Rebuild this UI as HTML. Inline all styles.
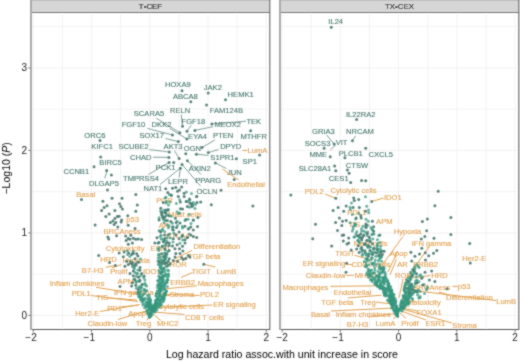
<!DOCTYPE html><html><head><meta charset="utf-8"><style>
html,body{margin:0;padding:0;background:#fff;}
svg{display:block;font-family:"Liberation Sans",sans-serif;}
#w{width:520px;height:361px;overflow:hidden;}
</style></head><body><div id="w">
<svg width="520" height="361" viewBox="0 0 520 361" xmlns="http://www.w3.org/2000/svg">
<defs><filter id="b" x="0" y="0" width="520" height="361" filterUnits="userSpaceOnUse"><feConvolveMatrix order="3" kernelMatrix="1 2 1 2 12 2 1 2 1" divisor="24" edgeMode="duplicate"/></filter></defs><rect width="520" height="361" fill="#fff"/><g filter="url(#b)">
<g stroke="#efefef" stroke-width="0.8"><line x1="33.30" y1="13" x2="33.30" y2="329" /><line x1="62.43" y1="13" x2="62.43" y2="329" /><line x1="91.55" y1="13" x2="91.55" y2="329" /><line x1="120.68" y1="13" x2="120.68" y2="329" /><line x1="149.80" y1="13" x2="149.80" y2="329" /><line x1="178.93" y1="13" x2="178.93" y2="329" /><line x1="208.05" y1="13" x2="208.05" y2="329" /><line x1="237.18" y1="13" x2="237.18" y2="329" /><line x1="266.30" y1="13" x2="266.30" y2="329" /><line x1="31" y1="315.40" x2="270" y2="315.40" /><line x1="31" y1="274.15" x2="270" y2="274.15" /><line x1="31" y1="232.90" x2="270" y2="232.90" /><line x1="31" y1="191.65" x2="270" y2="191.65" /><line x1="31" y1="150.40" x2="270" y2="150.40" /><line x1="31" y1="109.15" x2="270" y2="109.15" /><line x1="31" y1="67.90" x2="270" y2="67.90" /><line x1="31" y1="26.65" x2="270" y2="26.65" /></g>
<rect x="31" y="0" width="239" height="12.5" fill="#d6d6d6"/>
<rect x="31" y="0" width="239" height="1" fill="#bdbdbd"/>
<rect x="31" y="12" width="239" height="1" fill="#6a6a6a"/>
<rect x="31" y="329" width="239" height="1" fill="#555"/>
<rect x="30" y="0" width="2" height="330" fill="#aaaaaa"/>
<rect x="269.3" y="0" width="1" height="330" fill="#555"/>
<line x1="33.30" y1="330" x2="33.30" y2="332.4" stroke="#555" stroke-width="0.8"/>
<text x="31.00" y="341.4" font-size="10.0" fill="#222" text-anchor="middle">−2</text>
<line x1="91.55" y1="330" x2="91.55" y2="332.4" stroke="#555" stroke-width="0.8"/>
<text x="89.25" y="341.4" font-size="10.0" fill="#222" text-anchor="middle">−1</text>
<line x1="149.80" y1="330" x2="149.80" y2="332.4" stroke="#555" stroke-width="0.8"/>
<text x="149.80" y="341.4" font-size="10.0" fill="#222" text-anchor="middle">0</text>
<line x1="208.05" y1="330" x2="208.05" y2="332.4" stroke="#555" stroke-width="0.8"/>
<text x="208.05" y="341.4" font-size="10.0" fill="#222" text-anchor="middle">1</text>
<line x1="266.30" y1="330" x2="266.30" y2="332.4" stroke="#555" stroke-width="0.8"/>
<text x="266.30" y="341.4" font-size="10.0" fill="#222" text-anchor="middle">2</text>
<text x="150.5" y="9.0" font-size="7.9" fill="#111" stroke="#111" stroke-width="0.15" text-anchor="middle">T•CEF</text>
<g stroke="#efefef" stroke-width="0.8"><line x1="282.10" y1="13" x2="282.10" y2="329" /><line x1="311.23" y1="13" x2="311.23" y2="329" /><line x1="340.35" y1="13" x2="340.35" y2="329" /><line x1="369.48" y1="13" x2="369.48" y2="329" /><line x1="398.60" y1="13" x2="398.60" y2="329" /><line x1="427.73" y1="13" x2="427.73" y2="329" /><line x1="456.85" y1="13" x2="456.85" y2="329" /><line x1="485.98" y1="13" x2="485.98" y2="329" /><line x1="515.10" y1="13" x2="515.10" y2="329" /><line x1="280" y1="315.40" x2="519" y2="315.40" /><line x1="280" y1="274.15" x2="519" y2="274.15" /><line x1="280" y1="232.90" x2="519" y2="232.90" /><line x1="280" y1="191.65" x2="519" y2="191.65" /><line x1="280" y1="150.40" x2="519" y2="150.40" /><line x1="280" y1="109.15" x2="519" y2="109.15" /><line x1="280" y1="67.90" x2="519" y2="67.90" /><line x1="280" y1="26.65" x2="519" y2="26.65" /></g>
<rect x="280" y="0" width="239" height="12.5" fill="#d6d6d6"/>
<rect x="280" y="0" width="239" height="1" fill="#bdbdbd"/>
<rect x="280" y="12" width="239" height="1" fill="#6a6a6a"/>
<rect x="280" y="329" width="239" height="1" fill="#555"/>
<rect x="279" y="0" width="2" height="330" fill="#aaaaaa"/>
<rect x="518.3" y="0" width="1" height="330" fill="#555"/>
<line x1="282.10" y1="330" x2="282.10" y2="332.4" stroke="#555" stroke-width="0.8"/>
<text x="282.10" y="341.4" font-size="10.0" fill="#222" text-anchor="middle">−2</text>
<line x1="340.35" y1="330" x2="340.35" y2="332.4" stroke="#555" stroke-width="0.8"/>
<text x="338.05" y="341.4" font-size="10.0" fill="#222" text-anchor="middle">−1</text>
<line x1="398.60" y1="330" x2="398.60" y2="332.4" stroke="#555" stroke-width="0.8"/>
<text x="398.60" y="341.4" font-size="10.0" fill="#222" text-anchor="middle">0</text>
<line x1="456.85" y1="330" x2="456.85" y2="332.4" stroke="#555" stroke-width="0.8"/>
<text x="456.85" y="341.4" font-size="10.0" fill="#222" text-anchor="middle">1</text>
<line x1="515.10" y1="330" x2="515.10" y2="332.4" stroke="#555" stroke-width="0.8"/>
<text x="515.10" y="341.4" font-size="10.0" fill="#222" text-anchor="middle">2</text>
<text x="399.5" y="9.0" font-size="7.9" fill="#111" stroke="#111" stroke-width="0.15" text-anchor="middle">TX•CEX</text>
<line x1="28.3" y1="315.40" x2="30.5" y2="315.40" stroke="#555" stroke-width="0.8"/>
<text x="27.1" y="318.90" font-size="10.0" fill="#222" text-anchor="end">0</text>
<line x1="28.3" y1="232.90" x2="30.5" y2="232.90" stroke="#555" stroke-width="0.8"/>
<text x="27.1" y="236.40" font-size="10.0" fill="#222" text-anchor="end">1</text>
<line x1="28.3" y1="150.40" x2="30.5" y2="150.40" stroke="#555" stroke-width="0.8"/>
<text x="27.1" y="153.90" font-size="10.0" fill="#222" text-anchor="end">2</text>
<line x1="28.3" y1="67.90" x2="30.5" y2="67.90" stroke="#555" stroke-width="0.8"/>
<text x="27.1" y="71.40" font-size="10.0" fill="#222" text-anchor="end">3</text>
<text x="281.9" y="357.6" font-size="10.6" fill="#000" text-anchor="middle">Log hazard ratio assoc.with unit increase in score</text>
<text transform="translate(10.4,168.4) rotate(-90)" font-size="10.5" fill="#000" text-anchor="middle">−Log10 (<tspan font-style="italic">P</tspan>)</text>
<g font-size="7.6" text-anchor="middle" stroke-width="0.12"><text x="177.8" y="87.2" fill="#44766b" stroke="#44766b">HOXA9</text><text x="212.8" y="89.8" fill="#44766b" stroke="#44766b">JAK2</text><text x="240.7" y="97.2" fill="#44766b" stroke="#44766b">HEMK1</text><text x="185.4" y="98.8" fill="#44766b" stroke="#44766b">ABCA8</text><text x="180.1" y="113.0" fill="#44766b" stroke="#44766b">RELN</text><text x="226.4" y="113.2" fill="#44766b" stroke="#44766b">FAM124B</text><text x="193.4" y="123.6" fill="#44766b" stroke="#44766b">FGF18</text><text x="227.7" y="126.8" fill="#44766b" stroke="#44766b">MEOX2</text><text x="253.8" y="123.5" fill="#44766b" stroke="#44766b">TEK</text><text x="149.0" y="116.3" fill="#44766b" stroke="#44766b">SCARA5</text><text x="133.5" y="127.2" fill="#44766b" stroke="#44766b">FGF10</text><text x="161.5" y="127.1" fill="#44766b" stroke="#44766b">DKK2</text><text x="151.8" y="138.0" fill="#44766b" stroke="#44766b">SOX17</text><text x="197.5" y="139.3" fill="#44766b" stroke="#44766b">EYA4</text><text x="223.2" y="137.9" fill="#44766b" stroke="#44766b">PTEN</text><text x="253.7" y="139.3" fill="#44766b" stroke="#44766b">MTHFR</text><text x="94.9" y="137.6" fill="#44766b" stroke="#44766b">ORC6</text><text x="102.1" y="149.4" fill="#44766b" stroke="#44766b">KIFC1</text><text x="133.6" y="149.4" fill="#44766b" stroke="#44766b">SCUBE2</text><text x="173.1" y="149.2" fill="#44766b" stroke="#44766b">AKT3</text><text x="192.4" y="150.6" fill="#44766b" stroke="#44766b">OGN</text><text x="230.7" y="149.0" fill="#44766b" stroke="#44766b">DPYD</text><text x="257.5" y="152.5" fill="#e0a04c" stroke="#e0a04c">LumA</text><text x="140.8" y="159.6" fill="#44766b" stroke="#44766b">CHAD</text><text x="222.4" y="159.5" fill="#44766b" stroke="#44766b">S1PR1</text><text x="249.8" y="164.1" fill="#44766b" stroke="#44766b">SP1</text><text x="110.5" y="165.0" fill="#44766b" stroke="#44766b">BIRC5</text><text x="76.3" y="173.7" fill="#44766b" stroke="#44766b">CCNB1</text><text x="165.5" y="170.2" fill="#44766b" stroke="#44766b">PCK1</text><text x="199.8" y="171.0" fill="#44766b" stroke="#44766b">AXIN2</text><text x="234.3" y="175.2" fill="#44766b" stroke="#44766b">JUN</text><text x="141.0" y="180.8" fill="#44766b" stroke="#44766b">TMPRSS4</text><text x="103.9" y="185.6" fill="#44766b" stroke="#44766b">DLGAP5</text><text x="178.0" y="184.4" fill="#44766b" stroke="#44766b">LEPR</text><text x="208.2" y="182.8" fill="#44766b" stroke="#44766b">PPARG</text><text x="207.0" y="193.6" fill="#44766b" stroke="#44766b">OCLN</text><text x="152.9" y="191.4" fill="#44766b" stroke="#44766b">NAT1</text><text x="246.1" y="187.2" fill="#e0a04c" stroke="#e0a04c">Endothelial</text><text x="85.8" y="196.8" fill="#e0a04c" stroke="#e0a04c">Basal</text><text x="164.5" y="203.2" fill="#e0a04c" stroke="#e0a04c">PGR</text><text x="185.0" y="217.0" fill="#e0a04c" stroke="#e0a04c">Mast cells</text><text x="132.7" y="221.9" fill="#e0a04c" stroke="#e0a04c">p53</text><text x="164.0" y="228.0" fill="#e0a04c" stroke="#e0a04c">AR</text><text x="122.0" y="233.6" fill="#e0a04c" stroke="#e0a04c">BRCAness</text><text x="177.8" y="237.9" fill="#e0a04c" stroke="#e0a04c">CTLA4</text><text x="125.1" y="250.8" fill="#e0a04c" stroke="#e0a04c">Cytotoxicity</text><text x="160.5" y="251.2" fill="#e0a04c" stroke="#e0a04c">ESR1</text><text x="216.8" y="248.7" fill="#e0a04c" stroke="#e0a04c">Differentiation</text><text x="204.2" y="259.1" fill="#e0a04c" stroke="#e0a04c">TGF beta</text><text x="108.6" y="261.8" fill="#e0a04c" stroke="#e0a04c">HRD</text><text x="136.1" y="262.8" fill="#e0a04c" stroke="#e0a04c">Hypoxia</text><text x="178.3" y="267.3" fill="#e0a04c" stroke="#e0a04c">ROR</text><text x="92.6" y="272.7" fill="#e0a04c" stroke="#e0a04c">B7-H3</text><text x="118.9" y="273.8" fill="#e0a04c" stroke="#e0a04c">Prolif</text><text x="151.8" y="274.0" fill="#e0a04c" stroke="#e0a04c">IDO1</text><text x="201.1" y="273.7" fill="#e0a04c" stroke="#e0a04c">TIGIT</text><text x="226.4" y="274.2" fill="#e0a04c" stroke="#e0a04c">LumB</text><text x="77.2" y="285.8" fill="#e0a04c" stroke="#e0a04c">Inflam chmkines</text><text x="125.8" y="283.8" fill="#e0a04c" stroke="#e0a04c">APM</text><text x="182.6" y="285.2" fill="#e0a04c" stroke="#e0a04c">ERBB2</text><text x="220.7" y="286.0" fill="#e0a04c" stroke="#e0a04c">Macrophages</text><text x="81.2" y="296.0" fill="#e0a04c" stroke="#e0a04c">PDL1</text><text x="133.8" y="295.0" fill="#e0a04c" stroke="#e0a04c">IFN gamma</text><text x="181.9" y="297.0" fill="#e0a04c" stroke="#e0a04c">Stroma</text><text x="209.4" y="297.0" fill="#e0a04c" stroke="#e0a04c">PDL2</text><text x="102.2" y="300.3" fill="#e0a04c" stroke="#e0a04c">TIS</text><text x="234.5" y="307.0" fill="#e0a04c" stroke="#e0a04c">ER signaling</text><text x="181.1" y="309.1" fill="#e0a04c" stroke="#e0a04c">Cytolytic cells</text><text x="114.6" y="311.2" fill="#e0a04c" stroke="#e0a04c">PD1</text><text x="87.2" y="316.0" fill="#e0a04c" stroke="#e0a04c">Her2-E</text><text x="137.0" y="316.1" fill="#e0a04c" stroke="#e0a04c">Apop</text><text x="204.6" y="320.2" fill="#e0a04c" stroke="#e0a04c">CD8 T cells</text><text x="107.4" y="326.4" fill="#e0a04c" stroke="#e0a04c">Claudin-low</text><text x="143.5" y="325.5" fill="#e0a04c" stroke="#e0a04c">Treg</text><text x="167.7" y="325.9" fill="#e0a04c" stroke="#e0a04c">MHC2</text><text x="335.7" y="24.3" fill="#44766b" stroke="#44766b">IL24</text><text x="360.7" y="117.0" fill="#44766b" stroke="#44766b">IL22RA2</text><text x="323.4" y="134.4" fill="#44766b" stroke="#44766b">GRIA3</text><text x="359.9" y="134.4" fill="#44766b" stroke="#44766b">NRCAM</text><text x="317.5" y="146.4" fill="#44766b" stroke="#44766b">SOCS3</text><text x="341.6" y="145.3" fill="#44766b" stroke="#44766b">VIT</text><text x="318.3" y="157.0" fill="#44766b" stroke="#44766b">MME</text><text x="350.7" y="156.2" fill="#44766b" stroke="#44766b">PLCB1</text><text x="380.8" y="157.0" fill="#44766b" stroke="#44766b">CXCL5</text><text x="315.0" y="170.7" fill="#44766b" stroke="#44766b">SLC28A1</text><text x="357.0" y="168.1" fill="#44766b" stroke="#44766b">CTSW</text><text x="338.7" y="181.1" fill="#44766b" stroke="#44766b">CES1</text><text x="314.3" y="193.8" fill="#e0a04c" stroke="#e0a04c">PDL2</text><text x="353.6" y="193.3" fill="#e0a04c" stroke="#e0a04c">Cytolytic cells</text><text x="392.8" y="200.3" fill="#e0a04c" stroke="#e0a04c">IDO1</text><text x="356.8" y="215.3" fill="#e0a04c" stroke="#e0a04c">PDL1</text><text x="354.3" y="227.1" fill="#e0a04c" stroke="#e0a04c">TIS</text><text x="384.3" y="224.0" fill="#e0a04c" stroke="#e0a04c">APM</text><text x="407.4" y="234.2" fill="#e0a04c" stroke="#e0a04c">Hypoxia</text><text x="370.6" y="245.6" fill="#e0a04c" stroke="#e0a04c">Mast cells</text><text x="431.5" y="246.0" fill="#e0a04c" stroke="#e0a04c">IFN gamma</text><text x="345.0" y="256.0" fill="#e0a04c" stroke="#e0a04c">TIGIT</text><text x="398.8" y="256.0" fill="#e0a04c" stroke="#e0a04c">Apop</text><text x="474.4" y="261.1" fill="#e0a04c" stroke="#e0a04c">Her2-E</text><text x="324.1" y="266.4" fill="#e0a04c" stroke="#e0a04c">ER signaling</text><text x="371.0" y="266.6" fill="#e0a04c" stroke="#e0a04c">CD8 T cells</text><text x="402.5" y="267.0" fill="#e0a04c" stroke="#e0a04c">AR</text><text x="425.6" y="267.0" fill="#e0a04c" stroke="#e0a04c">ERBB2</text><text x="325.6" y="278.0" fill="#e0a04c" stroke="#e0a04c">Claudin-low</text><text x="365.4" y="277.6" fill="#e0a04c" stroke="#e0a04c">MHC2</text><text x="403.5" y="277.6" fill="#e0a04c" stroke="#e0a04c">ROR</text><text x="439.5" y="277.8" fill="#e0a04c" stroke="#e0a04c">HRD</text><text x="305.4" y="289.8" fill="#e0a04c" stroke="#e0a04c">Macrophages</text><text x="352.6" y="294.5" fill="#e0a04c" stroke="#e0a04c">Endothelial</text><text x="431.8" y="289.7" fill="#e0a04c" stroke="#e0a04c">BRCAness</text><text x="464.2" y="288.5" fill="#e0a04c" stroke="#e0a04c">p53</text><text x="337.2" y="305.0" fill="#e0a04c" stroke="#e0a04c">TGF beta</text><text x="368.0" y="304.7" fill="#e0a04c" stroke="#e0a04c">Treg</text><text x="421.3" y="304.7" fill="#e0a04c" stroke="#e0a04c">Cytotoxicity</text><text x="469.3" y="300.3" fill="#e0a04c" stroke="#e0a04c">Differentiation</text><text x="506.1" y="304.1" fill="#e0a04c" stroke="#e0a04c">LumB</text><text x="320.4" y="316.5" fill="#e0a04c" stroke="#e0a04c">Basal</text><text x="363.2" y="316.5" fill="#e0a04c" stroke="#e0a04c">Inflam chmkines</text><text x="429.2" y="314.7" fill="#e0a04c" stroke="#e0a04c">FOXA1</text><text x="357.4" y="326.8" fill="#e0a04c" stroke="#e0a04c">B7-H3</text><text x="385.5" y="326.2" fill="#e0a04c" stroke="#e0a04c">LumA</text><text x="410.0" y="326.2" fill="#e0a04c" stroke="#e0a04c">Prolif</text><text x="435.4" y="325.7" fill="#e0a04c" stroke="#e0a04c">ESR1</text><text x="464.6" y="327.5" fill="#e0a04c" stroke="#e0a04c">Stroma</text></g>
<line x1="156.2" y1="118.1" x2="179.8" y2="132.7" stroke="#44766b" stroke-width="0.7"/>
<line x1="169.5" y1="128.2" x2="186.8" y2="139.0" stroke="#44766b" stroke-width="0.7"/>
<line x1="147.4" y1="128.4" x2="172.5" y2="135.0" stroke="#44766b" stroke-width="0.7"/>
<line x1="165.5" y1="138.5" x2="178.3" y2="141.6" stroke="#44766b" stroke-width="0.7"/>
<line x1="181.2" y1="114.5" x2="182.5" y2="126.2" stroke="#44766b" stroke-width="0.7"/>
<line x1="191.3" y1="125.2" x2="187.0" y2="131.2" stroke="#44766b" stroke-width="0.7"/>
<line x1="213.2" y1="126.6" x2="194.9" y2="130.4" stroke="#44766b" stroke-width="0.7"/>
<line x1="246.0" y1="121.2" x2="211.8" y2="123.9" stroke="#44766b" stroke-width="0.7"/>
<line x1="149.5" y1="149.6" x2="169.3" y2="152.0" stroke="#44766b" stroke-width="0.7"/>
<line x1="153.0" y1="157.2" x2="168.9" y2="157.4" stroke="#44766b" stroke-width="0.7"/>
<line x1="174.5" y1="150.5" x2="179.1" y2="158.6" stroke="#44766b" stroke-width="0.7"/>
<line x1="214.9" y1="140.0" x2="202.0" y2="147.5" stroke="#44766b" stroke-width="0.7"/>
<line x1="218.5" y1="149.6" x2="208.3" y2="152.5" stroke="#44766b" stroke-width="0.7"/>
<line x1="208.5" y1="155.4" x2="196.4" y2="154.2" stroke="#44766b" stroke-width="0.7"/>
<line x1="187.4" y1="160.7" x2="201.0" y2="174.5" stroke="#44766b" stroke-width="0.7"/>
<line x1="182.0" y1="164.5" x2="200.5" y2="186.0" stroke="#44766b" stroke-width="0.7"/>
<line x1="180.4" y1="168.2" x2="160.0" y2="184.5" stroke="#44766b" stroke-width="0.7"/>
<line x1="180.4" y1="168.2" x2="179.1" y2="177.5" stroke="#44766b" stroke-width="0.7"/>
<line x1="148.5" y1="174.5" x2="169.1" y2="162.4" stroke="#44766b" stroke-width="0.7"/>
<line x1="107.3" y1="170.0" x2="104.8" y2="178.3" stroke="#44766b" stroke-width="0.7"/>
<line x1="215.4" y1="162.9" x2="226.5" y2="168.7" stroke="#44766b" stroke-width="0.7"/>
<line x1="242.5" y1="150.6" x2="247.3" y2="150.3" stroke="#e0a04c" stroke-width="1.0"/>
<line x1="222.5" y1="169.0" x2="238.5" y2="180.0" stroke="#e0a04c" stroke-width="1.0"/>
<line x1="203.8" y1="264.2" x2="215.3" y2="267.1" stroke="#e0a04c" stroke-width="1.0"/>
<line x1="192.0" y1="250.5" x2="175.0" y2="258.7" stroke="#e0a04c" stroke-width="1.0"/>
<line x1="192.5" y1="272.5" x2="181.0" y2="277.5" stroke="#e0a04c" stroke-width="1.0"/>
<line x1="189.5" y1="256.5" x2="172.0" y2="262.0" stroke="#e0a04c" stroke-width="1.0"/>
<line x1="121.6" y1="264.5" x2="111.9" y2="267.8" stroke="#e0a04c" stroke-width="1.0"/>
<line x1="105.4" y1="267.3" x2="115.4" y2="265.5" stroke="#e0a04c" stroke-width="1.0"/>
<line x1="160.0" y1="253.8" x2="160.3" y2="259.6" stroke="#e0a04c" stroke-width="1.0"/>
<line x1="96.0" y1="287.3" x2="138.0" y2="294.0" stroke="#e0a04c" stroke-width="1.0"/>
<line x1="107.5" y1="297.8" x2="137.0" y2="300.0" stroke="#e0a04c" stroke-width="1.0"/>
<line x1="121.5" y1="306.8" x2="138.0" y2="305.3" stroke="#e0a04c" stroke-width="1.0"/>
<line x1="100.0" y1="311.5" x2="140.0" y2="304.5" stroke="#e0a04c" stroke-width="1.0"/>
<line x1="118.0" y1="319.5" x2="146.0" y2="311.0" stroke="#e0a04c" stroke-width="1.0"/>
<line x1="91.0" y1="295.5" x2="138.0" y2="301.5" stroke="#e0a04c" stroke-width="1.0"/>
<line x1="197.0" y1="285.8" x2="163.0" y2="289.0" stroke="#e0a04c" stroke-width="1.0"/>
<line x1="199.5" y1="295.5" x2="160.0" y2="294.0" stroke="#e0a04c" stroke-width="1.0"/>
<line x1="170.0" y1="295.5" x2="158.5" y2="296.5" stroke="#e0a04c" stroke-width="1.0"/>
<line x1="212.5" y1="305.0" x2="156.0" y2="307.5" stroke="#e0a04c" stroke-width="1.0"/>
<line x1="184.6" y1="314.5" x2="153.0" y2="312.0" stroke="#e0a04c" stroke-width="1.0"/>
<line x1="160.8" y1="320.5" x2="153.0" y2="314.2" stroke="#e0a04c" stroke-width="1.0"/>
<line x1="147.0" y1="320.5" x2="149.5" y2="315.5" stroke="#e0a04c" stroke-width="1.0"/>
<line x1="145.0" y1="313.0" x2="143.0" y2="311.5" stroke="#e0a04c" stroke-width="1.0"/>
<line x1="326.6" y1="134.9" x2="334.1" y2="144.1" stroke="#44766b" stroke-width="0.7"/>
<line x1="355.7" y1="135.8" x2="352.4" y2="140.8" stroke="#44766b" stroke-width="0.7"/>
<line x1="335.8" y1="144.9" x2="330.2" y2="149.9" stroke="#44766b" stroke-width="0.7"/>
<line x1="354.5" y1="255.2" x2="371.5" y2="260.0" stroke="#e0a04c" stroke-width="1.0"/>
<line x1="346.5" y1="275.5" x2="354.0" y2="275.2" stroke="#e0a04c" stroke-width="1.0"/>
<line x1="325.0" y1="194.1" x2="335.8" y2="198.3" stroke="#e0a04c" stroke-width="1.0"/>
<line x1="383.6" y1="198.1" x2="372.4" y2="201.2" stroke="#e0a04c" stroke-width="1.0"/>
<line x1="402.8" y1="236.7" x2="380.0" y2="268.0" stroke="#e0a04c" stroke-width="1.0"/>
<line x1="397.6" y1="251.0" x2="388.0" y2="272.0" stroke="#e0a04c" stroke-width="1.0"/>
<line x1="428.7" y1="247.6" x2="405.0" y2="280.0" stroke="#e0a04c" stroke-width="1.0"/>
<line x1="396.5" y1="259.1" x2="390.0" y2="275.0" stroke="#e0a04c" stroke-width="1.0"/>
<line x1="430.5" y1="275.5" x2="412.0" y2="278.0" stroke="#e0a04c" stroke-width="1.0"/>
<line x1="452.5" y1="286.4" x2="457.7" y2="286.4" stroke="#e0a04c" stroke-width="1.0"/>
<line x1="438.7" y1="292.1" x2="446.4" y2="294.2" stroke="#e0a04c" stroke-width="1.0"/>
<line x1="410.0" y1="290.0" x2="496.0" y2="300.5" stroke="#e0a04c" stroke-width="1.0"/>
<line x1="404.0" y1="300.0" x2="416.0" y2="302.0" stroke="#e0a04c" stroke-width="1.0"/>
<line x1="402.0" y1="308.0" x2="417.0" y2="311.0" stroke="#e0a04c" stroke-width="1.0"/>
<line x1="401.0" y1="311.0" x2="426.0" y2="320.0" stroke="#e0a04c" stroke-width="1.0"/>
<line x1="402.0" y1="309.0" x2="452.0" y2="323.0" stroke="#e0a04c" stroke-width="1.0"/>
<line x1="400.0" y1="313.0" x2="406.0" y2="318.5" stroke="#e0a04c" stroke-width="1.0"/>
<line x1="397.0" y1="314.0" x2="393.7" y2="319.0" stroke="#e0a04c" stroke-width="1.0"/>
<line x1="368.0" y1="317.0" x2="397.0" y2="313.5" stroke="#e0a04c" stroke-width="1.0"/>
<line x1="331.0" y1="311.0" x2="395.0" y2="308.0" stroke="#e0a04c" stroke-width="1.0"/>
<line x1="347.9" y1="297.9" x2="381.5" y2="295.2" stroke="#e0a04c" stroke-width="1.0"/>
<line x1="330.4" y1="286.4" x2="377.5" y2="285.8" stroke="#e0a04c" stroke-width="1.0"/>
<line x1="376.0" y1="302.0" x2="392.0" y2="304.0" stroke="#e0a04c" stroke-width="1.0"/>
<line x1="403.0" y1="279.0" x2="399.0" y2="298.0" stroke="#e0a04c" stroke-width="1.0"/>
<line x1="346.5" y1="264.0" x2="353.0" y2="265.0" stroke="#e0a04c" stroke-width="1.0"/>
<g fill="#35977d" fill-opacity="0.75"><circle cx="127.3" cy="250.7" r="1.5"/><circle cx="133.2" cy="251.4" r="1.5"/><circle cx="133.0" cy="252.0" r="1.5"/><circle cx="127.6" cy="254.4" r="1.5"/><circle cx="129.9" cy="256.6" r="1.5"/><circle cx="140.5" cy="259.0" r="1.5"/><circle cx="130.3" cy="261.1" r="1.5"/><circle cx="139.0" cy="262.2" r="1.5"/><circle cx="136.4" cy="265.1" r="1.5"/><circle cx="132.6" cy="266.7" r="1.5"/><circle cx="134.1" cy="267.6" r="1.5"/><circle cx="134.3" cy="268.8" r="1.5"/><circle cx="137.8" cy="270.1" r="1.5"/><circle cx="135.0" cy="272.6" r="1.5"/><circle cx="136.7" cy="273.4" r="1.5"/><circle cx="137.7" cy="273.6" r="1.5"/><circle cx="141.1" cy="275.2" r="1.5"/><circle cx="136.1" cy="276.3" r="1.5"/><circle cx="139.3" cy="277.1" r="1.5"/><circle cx="143.7" cy="277.7" r="1.5"/><circle cx="133.9" cy="278.9" r="1.5"/><circle cx="144.9" cy="280.0" r="1.5"/><circle cx="138.4" cy="280.9" r="1.5"/><circle cx="139.6" cy="281.4" r="1.5"/><circle cx="135.7" cy="281.3" r="1.5"/><circle cx="136.2" cy="282.4" r="1.5"/><circle cx="144.9" cy="283.3" r="1.5"/><circle cx="141.7" cy="285.1" r="1.5"/><circle cx="145.4" cy="285.1" r="1.5"/><circle cx="140.0" cy="286.7" r="1.5"/><circle cx="146.6" cy="286.0" r="1.5"/><circle cx="138.8" cy="287.0" r="1.5"/><circle cx="141.6" cy="287.4" r="1.5"/><circle cx="136.4" cy="288.2" r="1.5"/><circle cx="140.5" cy="288.4" r="1.5"/><circle cx="144.3" cy="289.3" r="1.5"/><circle cx="144.3" cy="289.9" r="1.5"/><circle cx="146.8" cy="290.6" r="1.5"/><circle cx="145.8" cy="291.2" r="1.5"/><circle cx="141.4" cy="290.9" r="1.5"/><circle cx="137.9" cy="291.9" r="1.5"/><circle cx="139.5" cy="292.0" r="1.5"/><circle cx="137.9" cy="292.4" r="1.5"/><circle cx="139.0" cy="292.5" r="1.5"/><circle cx="138.0" cy="294.3" r="1.5"/><circle cx="144.5" cy="293.5" r="1.5"/><circle cx="140.5" cy="293.7" r="1.5"/><circle cx="139.5" cy="295.2" r="1.5"/><circle cx="149.0" cy="294.9" r="1.5"/><circle cx="143.4" cy="294.5" r="1.5"/><circle cx="142.2" cy="295.7" r="1.5"/><circle cx="147.5" cy="295.6" r="1.5"/><circle cx="138.8" cy="296.4" r="1.5"/><circle cx="140.5" cy="296.9" r="1.5"/><circle cx="139.2" cy="296.9" r="1.5"/><circle cx="149.5" cy="297.3" r="1.5"/><circle cx="142.1" cy="297.8" r="1.5"/><circle cx="141.1" cy="298.2" r="1.5"/><circle cx="145.0" cy="298.2" r="1.5"/><circle cx="142.1" cy="299.2" r="1.5"/><circle cx="150.2" cy="299.3" r="1.5"/><circle cx="148.3" cy="299.2" r="1.5"/><circle cx="147.6" cy="298.6" r="1.5"/><circle cx="143.9" cy="299.4" r="1.5"/><circle cx="140.4" cy="299.7" r="1.5"/><circle cx="142.9" cy="300.1" r="1.5"/><circle cx="150.2" cy="299.8" r="1.5"/><circle cx="150.8" cy="301.0" r="1.5"/><circle cx="144.2" cy="300.2" r="1.5"/><circle cx="142.8" cy="300.2" r="1.5"/><circle cx="147.4" cy="301.9" r="1.5"/><circle cx="149.7" cy="301.5" r="1.5"/><circle cx="147.7" cy="301.8" r="1.5"/><circle cx="141.9" cy="301.7" r="1.5"/><circle cx="149.5" cy="302.8" r="1.5"/><circle cx="146.4" cy="302.2" r="1.5"/><circle cx="149.6" cy="302.3" r="1.5"/><circle cx="149.7" cy="303.0" r="1.5"/><circle cx="146.2" cy="303.9" r="1.5"/><circle cx="149.4" cy="303.2" r="1.5"/><circle cx="143.4" cy="303.2" r="1.5"/><circle cx="151.1" cy="303.8" r="1.5"/><circle cx="150.8" cy="305.0" r="1.5"/><circle cx="149.2" cy="304.4" r="1.5"/><circle cx="148.1" cy="304.1" r="1.5"/><circle cx="142.9" cy="305.0" r="1.5"/><circle cx="149.1" cy="304.5" r="1.5"/><circle cx="147.5" cy="305.9" r="1.5"/><circle cx="151.2" cy="305.2" r="1.5"/><circle cx="145.8" cy="305.3" r="1.5"/><circle cx="145.6" cy="305.6" r="1.5"/><circle cx="147.9" cy="306.1" r="1.5"/><circle cx="152.4" cy="306.4" r="1.5"/><circle cx="148.2" cy="306.6" r="1.5"/><circle cx="152.4" cy="306.4" r="1.5"/><circle cx="152.5" cy="306.5" r="1.5"/><circle cx="149.3" cy="307.0" r="1.5"/><circle cx="148.6" cy="307.2" r="1.5"/><circle cx="144.6" cy="307.8" r="1.5"/><circle cx="146.1" cy="307.5" r="1.5"/><circle cx="149.9" cy="307.9" r="1.5"/><circle cx="149.6" cy="308.2" r="1.5"/><circle cx="152.0" cy="307.7" r="1.5"/><circle cx="149.9" cy="307.8" r="1.5"/><circle cx="151.7" cy="309.1" r="1.5"/><circle cx="150.0" cy="309.4" r="1.5"/><circle cx="152.9" cy="309.0" r="1.5"/><circle cx="150.4" cy="309.1" r="1.5"/><circle cx="149.6" cy="309.3" r="1.5"/><circle cx="149.8" cy="310.1" r="1.5"/><circle cx="152.8" cy="310.3" r="1.5"/><circle cx="152.3" cy="310.5" r="1.5"/><circle cx="147.7" cy="310.2" r="1.5"/><circle cx="151.8" cy="310.7" r="1.5"/><circle cx="147.0" cy="311.0" r="1.5"/><circle cx="146.7" cy="310.8" r="1.5"/><circle cx="150.6" cy="312.4" r="1.5"/><circle cx="152.0" cy="311.8" r="1.5"/><circle cx="150.9" cy="312.3" r="1.5"/><circle cx="147.5" cy="312.5" r="1.5"/><circle cx="148.2" cy="313.6" r="1.5"/><circle cx="149.2" cy="313.1" r="1.5"/><circle cx="152.2" cy="313.4" r="1.5"/><circle cx="149.4" cy="314.1" r="1.5"/><circle cx="149.0" cy="313.8" r="1.5"/><circle cx="148.9" cy="314.3" r="1.5"/><circle cx="150.0" cy="314.1" r="1.5"/><circle cx="147.7" cy="314.0" r="1.5"/><circle cx="150.3" cy="314.2" r="1.5"/><circle cx="151.4" cy="315.5" r="1.5"/><circle cx="151.4" cy="314.8" r="1.5"/><circle cx="149.1" cy="314.7" r="1.5"/><circle cx="150.7" cy="315.0" r="1.5"/><circle cx="149.7" cy="316.6" r="1.5"/><circle cx="150.6" cy="316.0" r="1.5"/><circle cx="149.1" cy="316.6" r="1.5"/><circle cx="150.2" cy="316.8" r="1.5"/><circle cx="149.4" cy="317.4" r="1.5"/><circle cx="166.5" cy="201.6" r="1.5"/><circle cx="166.1" cy="203.1" r="1.5"/><circle cx="163.9" cy="210.2" r="1.5"/><circle cx="160.6" cy="211.1" r="1.5"/><circle cx="162.0" cy="212.3" r="1.5"/><circle cx="162.5" cy="216.0" r="1.5"/><circle cx="159.1" cy="217.7" r="1.5"/><circle cx="163.9" cy="219.9" r="1.5"/><circle cx="167.6" cy="220.4" r="1.5"/><circle cx="168.5" cy="227.7" r="1.5"/><circle cx="162.5" cy="229.1" r="1.5"/><circle cx="159.0" cy="230.7" r="1.5"/><circle cx="160.2" cy="231.1" r="1.5"/><circle cx="161.2" cy="235.3" r="1.5"/><circle cx="160.1" cy="236.4" r="1.5"/><circle cx="170.4" cy="238.0" r="1.5"/><circle cx="161.2" cy="239.0" r="1.5"/><circle cx="162.7" cy="239.0" r="1.5"/><circle cx="164.2" cy="240.5" r="1.5"/><circle cx="164.5" cy="241.0" r="1.5"/><circle cx="159.0" cy="242.4" r="1.5"/><circle cx="158.1" cy="243.3" r="1.5"/><circle cx="165.2" cy="244.5" r="1.5"/><circle cx="166.0" cy="245.7" r="1.5"/><circle cx="162.5" cy="246.3" r="1.5"/><circle cx="159.3" cy="247.7" r="1.5"/><circle cx="157.9" cy="248.8" r="1.5"/><circle cx="165.2" cy="249.7" r="1.5"/><circle cx="158.9" cy="250.5" r="1.5"/><circle cx="167.6" cy="251.8" r="1.5"/><circle cx="164.4" cy="252.9" r="1.5"/><circle cx="165.6" cy="253.2" r="1.5"/><circle cx="158.9" cy="254.4" r="1.5"/><circle cx="158.5" cy="254.8" r="1.5"/><circle cx="164.6" cy="255.6" r="1.5"/><circle cx="165.2" cy="255.5" r="1.5"/><circle cx="166.4" cy="256.7" r="1.5"/><circle cx="163.1" cy="256.5" r="1.5"/><circle cx="158.2" cy="257.7" r="1.5"/><circle cx="160.2" cy="257.1" r="1.5"/><circle cx="165.4" cy="258.2" r="1.5"/><circle cx="165.5" cy="259.0" r="1.5"/><circle cx="161.6" cy="259.5" r="1.5"/><circle cx="164.8" cy="259.8" r="1.5"/><circle cx="164.2" cy="260.1" r="1.5"/><circle cx="159.1" cy="260.3" r="1.5"/><circle cx="160.9" cy="261.6" r="1.5"/><circle cx="157.9" cy="261.1" r="1.5"/><circle cx="164.9" cy="262.7" r="1.5"/><circle cx="164.9" cy="262.3" r="1.5"/><circle cx="162.9" cy="263.5" r="1.5"/><circle cx="159.3" cy="263.9" r="1.5"/><circle cx="168.3" cy="264.9" r="1.5"/><circle cx="158.4" cy="264.5" r="1.5"/><circle cx="168.4" cy="265.4" r="1.5"/><circle cx="161.2" cy="265.2" r="1.5"/><circle cx="160.8" cy="266.6" r="1.5"/><circle cx="160.1" cy="266.5" r="1.5"/><circle cx="160.1" cy="267.8" r="1.5"/><circle cx="164.0" cy="267.9" r="1.5"/><circle cx="161.3" cy="268.9" r="1.5"/><circle cx="163.9" cy="268.0" r="1.5"/><circle cx="164.2" cy="269.5" r="1.5"/><circle cx="162.2" cy="269.1" r="1.5"/><circle cx="162.6" cy="269.3" r="1.5"/><circle cx="159.0" cy="270.8" r="1.5"/><circle cx="167.6" cy="270.1" r="1.5"/><circle cx="168.5" cy="270.7" r="1.5"/><circle cx="161.8" cy="271.4" r="1.5"/><circle cx="162.9" cy="272.0" r="1.5"/><circle cx="164.9" cy="271.4" r="1.5"/><circle cx="161.5" cy="272.0" r="1.5"/><circle cx="159.7" cy="272.8" r="1.5"/><circle cx="161.6" cy="272.9" r="1.5"/><circle cx="161.3" cy="273.5" r="1.5"/><circle cx="160.5" cy="273.4" r="1.5"/><circle cx="168.5" cy="273.9" r="1.5"/><circle cx="165.0" cy="274.9" r="1.5"/><circle cx="168.3" cy="274.5" r="1.5"/><circle cx="165.9" cy="274.0" r="1.5"/><circle cx="163.0" cy="275.8" r="1.5"/><circle cx="165.0" cy="275.3" r="1.5"/><circle cx="158.7" cy="275.9" r="1.5"/><circle cx="163.1" cy="276.3" r="1.5"/><circle cx="161.2" cy="276.7" r="1.5"/><circle cx="168.4" cy="276.3" r="1.5"/><circle cx="165.0" cy="276.3" r="1.5"/><circle cx="162.1" cy="277.2" r="1.5"/><circle cx="159.6" cy="277.2" r="1.5"/><circle cx="167.6" cy="277.5" r="1.5"/><circle cx="160.3" cy="277.9" r="1.5"/><circle cx="162.6" cy="278.1" r="1.5"/><circle cx="159.8" cy="278.1" r="1.5"/><circle cx="161.4" cy="278.1" r="1.5"/><circle cx="160.4" cy="279.6" r="1.5"/><circle cx="167.2" cy="279.7" r="1.5"/><circle cx="162.1" cy="279.4" r="1.5"/><circle cx="163.3" cy="279.4" r="1.5"/><circle cx="158.2" cy="280.3" r="1.5"/><circle cx="168.0" cy="280.1" r="1.5"/><circle cx="163.0" cy="280.6" r="1.5"/><circle cx="166.8" cy="280.2" r="1.5"/><circle cx="160.2" cy="281.4" r="1.5"/><circle cx="162.3" cy="282.0" r="1.5"/><circle cx="166.6" cy="281.9" r="1.5"/><circle cx="157.7" cy="281.0" r="1.5"/><circle cx="167.0" cy="282.5" r="1.5"/><circle cx="163.7" cy="282.0" r="1.5"/><circle cx="161.6" cy="282.9" r="1.5"/><circle cx="166.2" cy="282.9" r="1.5"/><circle cx="160.0" cy="283.1" r="1.5"/><circle cx="159.0" cy="283.5" r="1.5"/><circle cx="164.6" cy="283.9" r="1.5"/><circle cx="164.2" cy="284.8" r="1.5"/><circle cx="162.2" cy="284.6" r="1.5"/><circle cx="157.8" cy="284.8" r="1.5"/><circle cx="159.8" cy="284.9" r="1.5"/><circle cx="160.5" cy="285.1" r="1.5"/><circle cx="159.9" cy="285.6" r="1.5"/><circle cx="164.6" cy="285.1" r="1.5"/><circle cx="158.0" cy="285.5" r="1.5"/><circle cx="161.3" cy="286.2" r="1.5"/><circle cx="163.5" cy="286.0" r="1.5"/><circle cx="160.4" cy="286.5" r="1.5"/><circle cx="167.3" cy="286.6" r="1.5"/><circle cx="162.1" cy="287.2" r="1.5"/><circle cx="159.8" cy="288.0" r="1.5"/><circle cx="164.5" cy="287.3" r="1.5"/><circle cx="157.4" cy="287.5" r="1.5"/><circle cx="161.5" cy="288.3" r="1.5"/><circle cx="164.1" cy="288.9" r="1.5"/><circle cx="159.5" cy="288.0" r="1.5"/><circle cx="160.6" cy="288.4" r="1.5"/><circle cx="159.1" cy="289.8" r="1.5"/><circle cx="164.7" cy="289.5" r="1.5"/><circle cx="159.2" cy="290.0" r="1.5"/><circle cx="160.3" cy="289.8" r="1.5"/><circle cx="159.1" cy="290.8" r="1.5"/><circle cx="159.9" cy="291.0" r="1.5"/><circle cx="161.9" cy="290.2" r="1.5"/><circle cx="159.2" cy="290.4" r="1.5"/><circle cx="166.3" cy="291.1" r="1.5"/><circle cx="160.6" cy="291.2" r="1.5"/><circle cx="166.5" cy="291.1" r="1.5"/><circle cx="157.2" cy="291.1" r="1.5"/><circle cx="165.4" cy="292.9" r="1.5"/><circle cx="163.8" cy="293.0" r="1.5"/><circle cx="165.8" cy="292.3" r="1.5"/><circle cx="158.3" cy="292.9" r="1.5"/><circle cx="156.6" cy="293.7" r="1.5"/><circle cx="160.0" cy="293.4" r="1.5"/><circle cx="159.5" cy="293.2" r="1.5"/><circle cx="156.3" cy="293.3" r="1.5"/><circle cx="165.4" cy="294.1" r="1.5"/><circle cx="165.5" cy="294.2" r="1.5"/><circle cx="159.5" cy="294.8" r="1.5"/><circle cx="164.1" cy="294.4" r="1.5"/><circle cx="160.4" cy="295.4" r="1.5"/><circle cx="164.7" cy="295.2" r="1.5"/><circle cx="159.4" cy="295.9" r="1.5"/><circle cx="156.1" cy="295.4" r="1.5"/><circle cx="163.0" cy="296.0" r="1.5"/><circle cx="156.0" cy="296.1" r="1.5"/><circle cx="164.4" cy="296.3" r="1.5"/><circle cx="162.8" cy="296.9" r="1.5"/><circle cx="158.0" cy="298.0" r="1.5"/><circle cx="161.3" cy="297.3" r="1.5"/><circle cx="162.2" cy="297.3" r="1.5"/><circle cx="158.0" cy="297.0" r="1.5"/><circle cx="163.8" cy="298.6" r="1.5"/><circle cx="164.0" cy="298.0" r="1.5"/><circle cx="157.4" cy="298.5" r="1.5"/><circle cx="164.2" cy="299.0" r="1.5"/><circle cx="157.4" cy="298.9" r="1.5"/><circle cx="159.7" cy="299.4" r="1.5"/><circle cx="156.8" cy="299.3" r="1.5"/><circle cx="162.0" cy="299.3" r="1.5"/><circle cx="160.4" cy="299.8" r="1.5"/><circle cx="157.8" cy="299.9" r="1.5"/><circle cx="162.0" cy="299.6" r="1.5"/><circle cx="156.7" cy="300.3" r="1.5"/><circle cx="155.3" cy="300.5" r="1.5"/><circle cx="159.6" cy="300.8" r="1.5"/><circle cx="163.3" cy="301.4" r="1.5"/><circle cx="163.4" cy="300.8" r="1.5"/><circle cx="155.4" cy="302.0" r="1.5"/><circle cx="160.6" cy="301.9" r="1.5"/><circle cx="156.5" cy="301.9" r="1.5"/><circle cx="159.8" cy="302.2" r="1.5"/><circle cx="161.3" cy="303.2" r="1.5"/><circle cx="155.4" cy="303.3" r="1.5"/><circle cx="156.8" cy="303.1" r="1.5"/><circle cx="157.4" cy="303.2" r="1.5"/><circle cx="156.2" cy="303.7" r="1.5"/><circle cx="155.4" cy="304.4" r="1.5"/><circle cx="158.8" cy="303.8" r="1.5"/><circle cx="157.3" cy="304.5" r="1.5"/><circle cx="155.9" cy="304.8" r="1.5"/><circle cx="159.2" cy="305.0" r="1.5"/><circle cx="154.9" cy="304.5" r="1.5"/><circle cx="160.5" cy="304.8" r="1.5"/><circle cx="154.0" cy="305.3" r="1.5"/><circle cx="154.6" cy="305.2" r="1.5"/><circle cx="161.2" cy="305.6" r="1.5"/><circle cx="156.2" cy="306.9" r="1.5"/><circle cx="156.7" cy="306.3" r="1.5"/><circle cx="159.2" cy="306.9" r="1.5"/><circle cx="157.4" cy="307.6" r="1.5"/><circle cx="154.6" cy="307.4" r="1.5"/><circle cx="154.0" cy="307.2" r="1.5"/><circle cx="154.9" cy="307.6" r="1.5"/><circle cx="154.1" cy="308.0" r="1.5"/><circle cx="155.0" cy="308.7" r="1.5"/><circle cx="154.0" cy="308.3" r="1.5"/><circle cx="154.1" cy="308.8" r="1.5"/><circle cx="152.6" cy="309.1" r="1.5"/><circle cx="154.7" cy="309.6" r="1.5"/><circle cx="156.2" cy="309.1" r="1.5"/><circle cx="153.2" cy="309.7" r="1.5"/><circle cx="153.3" cy="310.3" r="1.5"/><circle cx="156.7" cy="310.3" r="1.5"/><circle cx="154.7" cy="310.4" r="1.5"/><circle cx="154.9" cy="312.0" r="1.5"/><circle cx="152.9" cy="311.2" r="1.5"/><circle cx="154.3" cy="311.2" r="1.5"/><circle cx="377.1" cy="248.4" r="1.5"/><circle cx="377.6" cy="250.5" r="1.5"/><circle cx="361.8" cy="251.6" r="1.5"/><circle cx="378.9" cy="252.1" r="1.5"/><circle cx="368.9" cy="253.5" r="1.5"/><circle cx="367.5" cy="254.5" r="1.5"/><circle cx="380.0" cy="254.1" r="1.5"/><circle cx="378.0" cy="256.0" r="1.5"/><circle cx="366.0" cy="255.1" r="1.5"/><circle cx="381.6" cy="256.5" r="1.5"/><circle cx="380.9" cy="257.4" r="1.5"/><circle cx="380.4" cy="257.6" r="1.5"/><circle cx="365.9" cy="258.8" r="1.5"/><circle cx="367.2" cy="258.4" r="1.5"/><circle cx="379.4" cy="259.2" r="1.5"/><circle cx="367.3" cy="259.4" r="1.5"/><circle cx="370.8" cy="260.1" r="1.5"/><circle cx="368.1" cy="260.7" r="1.5"/><circle cx="364.2" cy="261.6" r="1.5"/><circle cx="378.4" cy="261.0" r="1.5"/><circle cx="366.0" cy="262.6" r="1.5"/><circle cx="374.5" cy="262.6" r="1.5"/><circle cx="372.2" cy="263.6" r="1.5"/><circle cx="372.3" cy="263.7" r="1.5"/><circle cx="372.7" cy="263.4" r="1.5"/><circle cx="376.4" cy="264.5" r="1.5"/><circle cx="368.8" cy="264.8" r="1.5"/><circle cx="379.5" cy="264.5" r="1.5"/><circle cx="373.7" cy="265.1" r="1.5"/><circle cx="366.9" cy="265.4" r="1.5"/><circle cx="366.1" cy="265.4" r="1.5"/><circle cx="365.4" cy="266.6" r="1.5"/><circle cx="366.2" cy="266.7" r="1.5"/><circle cx="379.8" cy="266.5" r="1.5"/><circle cx="374.7" cy="267.4" r="1.5"/><circle cx="383.4" cy="267.1" r="1.5"/><circle cx="381.6" cy="268.0" r="1.5"/><circle cx="379.1" cy="267.8" r="1.5"/><circle cx="384.1" cy="268.5" r="1.5"/><circle cx="383.7" cy="268.9" r="1.5"/><circle cx="368.2" cy="268.8" r="1.5"/><circle cx="383.2" cy="268.1" r="1.5"/><circle cx="379.9" cy="269.2" r="1.5"/><circle cx="382.6" cy="269.3" r="1.5"/><circle cx="381.1" cy="269.1" r="1.5"/><circle cx="375.0" cy="269.9" r="1.5"/><circle cx="370.6" cy="270.5" r="1.5"/><circle cx="371.7" cy="270.0" r="1.5"/><circle cx="369.0" cy="270.2" r="1.5"/><circle cx="383.6" cy="270.7" r="1.5"/><circle cx="369.0" cy="271.8" r="1.5"/><circle cx="367.9" cy="271.5" r="1.5"/><circle cx="378.0" cy="271.4" r="1.5"/><circle cx="382.5" cy="271.6" r="1.5"/><circle cx="382.9" cy="272.1" r="1.5"/><circle cx="385.0" cy="272.6" r="1.5"/><circle cx="373.5" cy="272.8" r="1.5"/><circle cx="371.0" cy="273.0" r="1.5"/><circle cx="373.0" cy="273.4" r="1.5"/><circle cx="374.5" cy="272.8" r="1.5"/><circle cx="380.3" cy="272.6" r="1.5"/><circle cx="381.8" cy="272.9" r="1.5"/><circle cx="385.3" cy="274.2" r="1.5"/><circle cx="379.3" cy="273.9" r="1.5"/><circle cx="366.7" cy="273.6" r="1.5"/><circle cx="369.5" cy="274.2" r="1.5"/><circle cx="376.9" cy="275.5" r="1.5"/><circle cx="369.8" cy="274.8" r="1.5"/><circle cx="379.5" cy="274.6" r="1.5"/><circle cx="367.4" cy="275.0" r="1.5"/><circle cx="369.3" cy="275.0" r="1.5"/><circle cx="378.7" cy="276.2" r="1.5"/><circle cx="371.7" cy="276.2" r="1.5"/><circle cx="376.7" cy="275.7" r="1.5"/><circle cx="385.3" cy="275.8" r="1.5"/><circle cx="370.7" cy="275.7" r="1.5"/><circle cx="384.5" cy="277.4" r="1.5"/><circle cx="375.9" cy="276.9" r="1.5"/><circle cx="368.7" cy="277.2" r="1.5"/><circle cx="378.8" cy="277.0" r="1.5"/><circle cx="380.3" cy="277.0" r="1.5"/><circle cx="382.4" cy="277.8" r="1.5"/><circle cx="385.5" cy="277.6" r="1.5"/><circle cx="378.8" cy="278.0" r="1.5"/><circle cx="373.4" cy="277.7" r="1.5"/><circle cx="383.2" cy="277.6" r="1.5"/><circle cx="386.6" cy="278.7" r="1.5"/><circle cx="373.3" cy="279.2" r="1.5"/><circle cx="378.8" cy="279.2" r="1.5"/><circle cx="384.3" cy="278.8" r="1.5"/><circle cx="375.3" cy="278.9" r="1.5"/><circle cx="370.6" cy="279.5" r="1.5"/><circle cx="383.0" cy="279.6" r="1.5"/><circle cx="385.3" cy="280.3" r="1.5"/><circle cx="378.6" cy="280.3" r="1.5"/><circle cx="378.4" cy="279.8" r="1.5"/><circle cx="372.2" cy="279.8" r="1.5"/><circle cx="371.0" cy="279.9" r="1.5"/><circle cx="382.9" cy="281.0" r="1.5"/><circle cx="383.2" cy="280.5" r="1.5"/><circle cx="380.4" cy="280.6" r="1.5"/><circle cx="384.6" cy="280.7" r="1.5"/><circle cx="375.4" cy="280.8" r="1.5"/><circle cx="387.7" cy="280.4" r="1.5"/><circle cx="372.2" cy="281.5" r="1.5"/><circle cx="375.9" cy="281.9" r="1.5"/><circle cx="387.9" cy="281.9" r="1.5"/><circle cx="377.4" cy="282.1" r="1.5"/><circle cx="377.5" cy="281.4" r="1.5"/><circle cx="387.2" cy="281.8" r="1.5"/><circle cx="383.9" cy="283.2" r="1.5"/><circle cx="380.7" cy="283.0" r="1.5"/><circle cx="384.4" cy="283.1" r="1.5"/><circle cx="380.2" cy="282.9" r="1.5"/><circle cx="382.3" cy="282.5" r="1.5"/><circle cx="376.5" cy="282.8" r="1.5"/><circle cx="388.4" cy="283.3" r="1.5"/><circle cx="374.7" cy="283.3" r="1.5"/><circle cx="388.7" cy="283.5" r="1.5"/><circle cx="376.5" cy="283.2" r="1.5"/><circle cx="374.9" cy="283.9" r="1.5"/><circle cx="384.1" cy="283.9" r="1.5"/><circle cx="376.5" cy="284.8" r="1.5"/><circle cx="380.9" cy="285.0" r="1.5"/><circle cx="387.6" cy="285.1" r="1.5"/><circle cx="376.5" cy="285.1" r="1.5"/><circle cx="389.0" cy="285.1" r="1.5"/><circle cx="379.6" cy="285.3" r="1.5"/><circle cx="377.2" cy="286.0" r="1.5"/><circle cx="388.1" cy="285.8" r="1.5"/><circle cx="388.3" cy="285.8" r="1.5"/><circle cx="380.7" cy="285.3" r="1.5"/><circle cx="378.1" cy="286.0" r="1.5"/><circle cx="382.2" cy="286.6" r="1.5"/><circle cx="378.2" cy="286.5" r="1.5"/><circle cx="381.7" cy="286.9" r="1.5"/><circle cx="382.8" cy="286.5" r="1.5"/><circle cx="390.8" cy="286.7" r="1.5"/><circle cx="389.3" cy="286.8" r="1.5"/><circle cx="384.3" cy="287.6" r="1.5"/><circle cx="388.9" cy="287.5" r="1.5"/><circle cx="388.0" cy="287.7" r="1.5"/><circle cx="381.8" cy="288.1" r="1.5"/><circle cx="380.2" cy="288.0" r="1.5"/><circle cx="381.2" cy="287.2" r="1.5"/><circle cx="389.2" cy="288.8" r="1.5"/><circle cx="379.9" cy="288.3" r="1.5"/><circle cx="385.8" cy="288.6" r="1.5"/><circle cx="382.1" cy="288.3" r="1.5"/><circle cx="384.1" cy="288.6" r="1.5"/><circle cx="383.0" cy="288.7" r="1.5"/><circle cx="383.0" cy="289.5" r="1.5"/><circle cx="386.4" cy="288.9" r="1.5"/><circle cx="388.0" cy="288.9" r="1.5"/><circle cx="389.9" cy="289.5" r="1.5"/><circle cx="389.8" cy="289.4" r="1.5"/><circle cx="385.7" cy="290.2" r="1.5"/><circle cx="391.4" cy="289.9" r="1.5"/><circle cx="391.4" cy="289.8" r="1.5"/><circle cx="383.4" cy="290.1" r="1.5"/><circle cx="391.6" cy="290.3" r="1.5"/><circle cx="391.7" cy="291.0" r="1.5"/><circle cx="386.9" cy="291.3" r="1.5"/><circle cx="390.2" cy="291.6" r="1.5"/><circle cx="389.0" cy="291.1" r="1.5"/><circle cx="385.3" cy="291.0" r="1.5"/><circle cx="389.6" cy="292.5" r="1.5"/><circle cx="384.1" cy="292.2" r="1.5"/><circle cx="390.8" cy="292.4" r="1.5"/><circle cx="383.6" cy="292.3" r="1.5"/><circle cx="392.0" cy="292.0" r="1.5"/><circle cx="386.1" cy="293.5" r="1.5"/><circle cx="391.9" cy="293.0" r="1.5"/><circle cx="384.5" cy="293.0" r="1.5"/><circle cx="386.3" cy="293.3" r="1.5"/><circle cx="384.6" cy="293.1" r="1.5"/><circle cx="393.7" cy="294.5" r="1.5"/><circle cx="384.5" cy="294.8" r="1.5"/><circle cx="384.5" cy="294.2" r="1.5"/><circle cx="393.7" cy="294.6" r="1.5"/><circle cx="391.1" cy="294.2" r="1.5"/><circle cx="390.5" cy="294.9" r="1.5"/><circle cx="386.1" cy="295.2" r="1.5"/><circle cx="384.4" cy="295.2" r="1.5"/><circle cx="392.1" cy="295.5" r="1.5"/><circle cx="389.1" cy="295.4" r="1.5"/><circle cx="385.8" cy="296.0" r="1.5"/><circle cx="388.4" cy="296.1" r="1.5"/><circle cx="393.5" cy="295.8" r="1.5"/><circle cx="390.1" cy="296.1" r="1.5"/><circle cx="388.6" cy="295.6" r="1.5"/><circle cx="393.6" cy="297.2" r="1.5"/><circle cx="391.8" cy="297.3" r="1.5"/><circle cx="391.6" cy="297.0" r="1.5"/><circle cx="389.4" cy="296.7" r="1.5"/><circle cx="391.1" cy="296.5" r="1.5"/><circle cx="393.0" cy="298.1" r="1.5"/><circle cx="391.5" cy="297.7" r="1.5"/><circle cx="389.6" cy="297.9" r="1.5"/><circle cx="391.5" cy="297.8" r="1.5"/><circle cx="392.0" cy="298.3" r="1.5"/><circle cx="392.2" cy="299.2" r="1.5"/><circle cx="389.8" cy="298.9" r="1.5"/><circle cx="395.2" cy="298.4" r="1.5"/><circle cx="391.2" cy="298.6" r="1.5"/><circle cx="393.4" cy="299.3" r="1.5"/><circle cx="387.7" cy="300.0" r="1.5"/><circle cx="391.6" cy="300.1" r="1.5"/><circle cx="391.4" cy="300.0" r="1.5"/><circle cx="394.2" cy="299.9" r="1.5"/><circle cx="390.4" cy="300.3" r="1.5"/><circle cx="393.3" cy="300.8" r="1.5"/><circle cx="394.0" cy="300.5" r="1.5"/><circle cx="395.9" cy="300.8" r="1.5"/><circle cx="387.9" cy="300.7" r="1.5"/><circle cx="390.8" cy="300.4" r="1.5"/><circle cx="391.5" cy="302.1" r="1.5"/><circle cx="390.9" cy="301.7" r="1.5"/><circle cx="389.8" cy="302.1" r="1.5"/><circle cx="395.9" cy="301.9" r="1.5"/><circle cx="389.8" cy="302.2" r="1.5"/><circle cx="390.3" cy="302.5" r="1.5"/><circle cx="394.9" cy="303.2" r="1.5"/><circle cx="393.7" cy="302.9" r="1.5"/><circle cx="393.1" cy="302.6" r="1.5"/><circle cx="391.7" cy="303.6" r="1.5"/><circle cx="395.4" cy="303.8" r="1.5"/><circle cx="392.6" cy="303.3" r="1.5"/><circle cx="393.3" cy="303.1" r="1.5"/><circle cx="392.3" cy="304.9" r="1.5"/><circle cx="391.6" cy="304.4" r="1.5"/><circle cx="391.5" cy="304.4" r="1.5"/><circle cx="391.0" cy="304.0" r="1.5"/><circle cx="392.3" cy="305.2" r="1.5"/><circle cx="392.4" cy="305.5" r="1.5"/><circle cx="393.3" cy="305.6" r="1.5"/><circle cx="395.0" cy="305.4" r="1.5"/><circle cx="396.7" cy="306.1" r="1.5"/><circle cx="396.5" cy="306.9" r="1.5"/><circle cx="396.2" cy="306.1" r="1.5"/><circle cx="396.5" cy="306.6" r="1.5"/><circle cx="391.7" cy="308.0" r="1.5"/><circle cx="395.8" cy="307.3" r="1.5"/><circle cx="392.2" cy="307.1" r="1.5"/><circle cx="393.1" cy="307.8" r="1.5"/><circle cx="393.2" cy="308.9" r="1.5"/><circle cx="397.0" cy="308.2" r="1.5"/><circle cx="397.6" cy="308.6" r="1.5"/><circle cx="396.9" cy="308.7" r="1.5"/><circle cx="397.3" cy="309.8" r="1.5"/><circle cx="394.0" cy="309.7" r="1.5"/><circle cx="395.9" cy="309.7" r="1.5"/><circle cx="398.1" cy="310.6" r="1.5"/><circle cx="395.0" cy="310.2" r="1.5"/><circle cx="394.3" cy="310.5" r="1.5"/><circle cx="396.3" cy="310.8" r="1.5"/><circle cx="396.5" cy="311.2" r="1.5"/><circle cx="396.7" cy="311.6" r="1.5"/><circle cx="394.1" cy="311.5" r="1.5"/><circle cx="397.0" cy="312.4" r="1.5"/><circle cx="398.1" cy="312.1" r="1.5"/><circle cx="396.4" cy="312.7" r="1.5"/><circle cx="397.4" cy="313.3" r="1.5"/><circle cx="395.4" cy="313.3" r="1.5"/><circle cx="397.6" cy="313.6" r="1.5"/><circle cx="396.4" cy="313.7" r="1.5"/><circle cx="397.1" cy="314.6" r="1.5"/><circle cx="395.9" cy="314.4" r="1.5"/><circle cx="397.5" cy="314.0" r="1.5"/><circle cx="397.1" cy="315.2" r="1.5"/><circle cx="397.5" cy="315.5" r="1.5"/><circle cx="397.6" cy="316.1" r="1.5"/><circle cx="397.7" cy="316.5" r="1.5"/><circle cx="416.9" cy="264.4" r="1.5"/><circle cx="414.6" cy="267.0" r="1.5"/><circle cx="412.8" cy="269.3" r="1.5"/><circle cx="414.4" cy="270.8" r="1.5"/><circle cx="414.7" cy="271.9" r="1.5"/><circle cx="410.5" cy="272.3" r="1.5"/><circle cx="411.2" cy="273.5" r="1.5"/><circle cx="413.2" cy="274.4" r="1.5"/><circle cx="412.2" cy="275.2" r="1.5"/><circle cx="412.0" cy="276.2" r="1.5"/><circle cx="408.8" cy="277.3" r="1.5"/><circle cx="410.8" cy="277.7" r="1.5"/><circle cx="406.8" cy="279.4" r="1.5"/><circle cx="410.8" cy="279.3" r="1.5"/><circle cx="409.6" cy="280.4" r="1.5"/><circle cx="406.8" cy="280.5" r="1.5"/><circle cx="407.0" cy="281.6" r="1.5"/><circle cx="408.5" cy="282.1" r="1.5"/><circle cx="408.3" cy="282.2" r="1.5"/><circle cx="405.9" cy="283.0" r="1.5"/><circle cx="410.5" cy="283.6" r="1.5"/><circle cx="405.2" cy="283.6" r="1.5"/><circle cx="410.9" cy="285.2" r="1.5"/><circle cx="407.9" cy="284.6" r="1.5"/><circle cx="409.2" cy="285.4" r="1.5"/><circle cx="405.7" cy="285.2" r="1.5"/><circle cx="404.7" cy="285.9" r="1.5"/><circle cx="411.8" cy="286.3" r="1.5"/><circle cx="411.0" cy="286.3" r="1.5"/><circle cx="404.6" cy="286.9" r="1.5"/><circle cx="410.2" cy="287.4" r="1.5"/><circle cx="404.6" cy="288.0" r="1.5"/><circle cx="410.0" cy="288.1" r="1.5"/><circle cx="404.8" cy="288.4" r="1.5"/><circle cx="410.1" cy="288.3" r="1.5"/><circle cx="412.0" cy="288.1" r="1.5"/><circle cx="410.0" cy="288.8" r="1.5"/><circle cx="404.0" cy="289.5" r="1.5"/><circle cx="410.9" cy="288.9" r="1.5"/><circle cx="409.9" cy="290.0" r="1.5"/><circle cx="411.0" cy="290.3" r="1.5"/><circle cx="404.2" cy="290.2" r="1.5"/><circle cx="408.6" cy="290.2" r="1.5"/><circle cx="404.7" cy="291.6" r="1.5"/><circle cx="406.6" cy="291.4" r="1.5"/><circle cx="408.9" cy="291.2" r="1.5"/><circle cx="410.0" cy="292.7" r="1.5"/><circle cx="410.0" cy="292.4" r="1.5"/><circle cx="405.8" cy="291.9" r="1.5"/><circle cx="411.6" cy="292.5" r="1.5"/><circle cx="405.9" cy="293.4" r="1.5"/><circle cx="411.4" cy="293.6" r="1.5"/><circle cx="408.2" cy="293.1" r="1.5"/><circle cx="410.5" cy="294.2" r="1.5"/><circle cx="408.7" cy="294.4" r="1.5"/><circle cx="410.5" cy="294.6" r="1.5"/><circle cx="405.3" cy="293.8" r="1.5"/><circle cx="406.3" cy="295.4" r="1.5"/><circle cx="409.7" cy="295.7" r="1.5"/><circle cx="403.1" cy="295.6" r="1.5"/><circle cx="409.6" cy="295.7" r="1.5"/><circle cx="404.9" cy="296.3" r="1.5"/><circle cx="409.5" cy="296.1" r="1.5"/><circle cx="410.4" cy="295.7" r="1.5"/><circle cx="403.3" cy="296.0" r="1.5"/><circle cx="404.0" cy="297.2" r="1.5"/><circle cx="410.1" cy="296.6" r="1.5"/><circle cx="407.4" cy="297.1" r="1.5"/><circle cx="406.2" cy="296.6" r="1.5"/><circle cx="408.2" cy="298.2" r="1.5"/><circle cx="405.8" cy="297.5" r="1.5"/><circle cx="408.7" cy="298.2" r="1.5"/><circle cx="403.9" cy="298.0" r="1.5"/><circle cx="408.9" cy="298.9" r="1.5"/><circle cx="405.6" cy="299.0" r="1.5"/><circle cx="403.2" cy="298.6" r="1.5"/><circle cx="407.0" cy="299.8" r="1.5"/><circle cx="405.9" cy="299.8" r="1.5"/><circle cx="405.5" cy="299.5" r="1.5"/><circle cx="401.7" cy="300.4" r="1.5"/><circle cx="401.9" cy="301.0" r="1.5"/><circle cx="407.3" cy="300.6" r="1.5"/><circle cx="405.8" cy="300.7" r="1.5"/><circle cx="405.2" cy="300.4" r="1.5"/><circle cx="408.5" cy="302.3" r="1.5"/><circle cx="404.6" cy="302.0" r="1.5"/><circle cx="402.8" cy="302.2" r="1.5"/><circle cx="404.1" cy="302.3" r="1.5"/><circle cx="406.8" cy="303.4" r="1.5"/><circle cx="402.4" cy="302.4" r="1.5"/><circle cx="402.0" cy="302.6" r="1.5"/><circle cx="401.1" cy="302.5" r="1.5"/><circle cx="406.9" cy="303.5" r="1.5"/><circle cx="407.5" cy="303.9" r="1.5"/><circle cx="400.8" cy="303.6" r="1.5"/><circle cx="403.3" cy="303.1" r="1.5"/><circle cx="401.9" cy="304.6" r="1.5"/><circle cx="404.6" cy="305.0" r="1.5"/><circle cx="404.8" cy="304.4" r="1.5"/><circle cx="401.0" cy="306.0" r="1.5"/><circle cx="406.3" cy="305.2" r="1.5"/><circle cx="400.2" cy="305.3" r="1.5"/><circle cx="402.2" cy="305.9" r="1.5"/><circle cx="404.6" cy="306.0" r="1.5"/><circle cx="404.3" cy="306.7" r="1.5"/><circle cx="403.5" cy="307.0" r="1.5"/><circle cx="400.4" cy="307.8" r="1.5"/><circle cx="404.5" cy="307.7" r="1.5"/><circle cx="401.2" cy="307.6" r="1.5"/><circle cx="403.5" cy="307.1" r="1.5"/><circle cx="400.7" cy="308.1" r="1.5"/><circle cx="401.7" cy="308.2" r="1.5"/><circle cx="400.6" cy="308.1" r="1.5"/><circle cx="399.4" cy="309.7" r="1.5"/><circle cx="400.1" cy="309.0" r="1.5"/><circle cx="402.9" cy="309.2" r="1.5"/><circle cx="402.0" cy="310.9" r="1.5"/><circle cx="399.7" cy="310.4" r="1.5"/><circle cx="365.5" cy="196.8" r="1.5"/><circle cx="351.5" cy="203.1" r="1.5"/><circle cx="366.7" cy="206.3" r="1.5"/><circle cx="350.0" cy="207.3" r="1.5"/><circle cx="350.3" cy="209.5" r="1.5"/><circle cx="368.5" cy="210.1" r="1.5"/><circle cx="368.7" cy="212.7" r="1.5"/><circle cx="358.7" cy="213.3" r="1.5"/><circle cx="352.3" cy="214.4" r="1.5"/><circle cx="355.6" cy="218.9" r="1.5"/><circle cx="366.0" cy="219.3" r="1.5"/><circle cx="368.3" cy="221.3" r="1.5"/><circle cx="350.1" cy="222.8" r="1.5"/><circle cx="354.6" cy="223.4" r="1.5"/><circle cx="355.7" cy="224.6" r="1.5"/><circle cx="355.1" cy="225.8" r="1.5"/><circle cx="367.7" cy="225.2" r="1.5"/><circle cx="353.1" cy="226.6" r="1.5"/><circle cx="362.9" cy="226.3" r="1.5"/><circle cx="366.2" cy="227.7" r="1.5"/><circle cx="371.0" cy="227.6" r="1.5"/><circle cx="353.1" cy="228.7" r="1.5"/><circle cx="361.5" cy="228.7" r="1.5"/><circle cx="371.9" cy="229.3" r="1.5"/><circle cx="372.7" cy="229.9" r="1.5"/><circle cx="352.3" cy="230.9" r="1.5"/><circle cx="364.0" cy="230.9" r="1.5"/><circle cx="356.9" cy="231.8" r="1.5"/><circle cx="361.6" cy="231.2" r="1.5"/><circle cx="367.8" cy="232.0" r="1.5"/><circle cx="365.9" cy="232.4" r="1.5"/><circle cx="355.8" cy="233.7" r="1.5"/><circle cx="374.0" cy="233.9" r="1.5"/><circle cx="371.7" cy="234.4" r="1.5"/><circle cx="372.8" cy="234.1" r="1.5"/><circle cx="378.7" cy="235.5" r="1.5"/><circle cx="366.9" cy="235.5" r="1.5"/><circle cx="354.0" cy="237.0" r="1.5"/><circle cx="359.4" cy="236.2" r="1.5"/><circle cx="360.4" cy="237.8" r="1.5"/><circle cx="354.5" cy="237.1" r="1.5"/><circle cx="359.2" cy="238.0" r="1.5"/><circle cx="369.9" cy="238.6" r="1.5"/><circle cx="372.9" cy="239.1" r="1.5"/><circle cx="377.4" cy="239.7" r="1.5"/><circle cx="357.9" cy="240.5" r="1.5"/><circle cx="367.9" cy="240.3" r="1.5"/><circle cx="357.9" cy="240.4" r="1.5"/><circle cx="370.5" cy="241.9" r="1.5"/><circle cx="358.8" cy="241.6" r="1.5"/><circle cx="359.6" cy="242.8" r="1.5"/><circle cx="379.9" cy="242.4" r="1.5"/><circle cx="377.5" cy="243.5" r="1.5"/><circle cx="365.9" cy="243.9" r="1.5"/><circle cx="364.7" cy="244.2" r="1.5"/><circle cx="364.6" cy="244.4" r="1.5"/><circle cx="377.1" cy="245.9" r="1.5"/><circle cx="377.4" cy="245.8" r="1.5"/><circle cx="369.9" cy="247.0" r="1.5"/><circle cx="380.7" cy="246.2" r="1.5"/><circle cx="367.4" cy="246.6" r="1.5"/><circle cx="370.5" cy="247.1" r="1.5"/><circle cx="368.0" cy="247.5" r="1.5"/><circle cx="360.7" cy="249.0" r="1.5"/><circle cx="377.1" cy="248.9" r="1.5"/><circle cx="373.4" cy="248.8" r="1.5"/><circle cx="380.1" cy="249.0" r="1.5"/><circle cx="373.9" cy="249.3" r="1.5"/><circle cx="364.9" cy="250.5" r="1.5"/><circle cx="381.3" cy="250.6" r="1.5"/><circle cx="371.4" cy="251.4" r="1.5"/><circle cx="382.1" cy="251.3" r="1.5"/><circle cx="374.8" cy="252.1" r="1.5"/><circle cx="373.5" cy="253.0" r="1.5"/><circle cx="365.8" cy="253.5" r="1.5"/><circle cx="372.3" cy="253.1" r="1.5"/><circle cx="362.8" cy="254.3" r="1.5"/><circle cx="369.5" cy="254.3" r="1.5"/><circle cx="362.2" cy="255.5" r="1.5"/><circle cx="380.1" cy="255.6" r="1.5"/><circle cx="375.8" cy="256.2" r="1.5"/><circle cx="371.7" cy="257.5" r="1.5"/><circle cx="372.1" cy="258.3" r="1.5"/><circle cx="366.8" cy="259.5" r="1.5"/><circle cx="375.3" cy="260.0" r="1.5"/><circle cx="381.7" cy="261.2" r="1.5"/><circle cx="418.1" cy="266.2" r="1.5"/><circle cx="419.1" cy="267.4" r="1.5"/><circle cx="415.0" cy="268.4" r="1.5"/><circle cx="413.3" cy="271.0" r="1.5"/><circle cx="414.4" cy="272.4" r="1.5"/><circle cx="420.7" cy="274.8" r="1.5"/><circle cx="419.6" cy="275.7" r="1.5"/><circle cx="416.3" cy="276.8" r="1.5"/><circle cx="422.5" cy="277.1" r="1.5"/><circle cx="409.6" cy="278.8" r="1.5"/><circle cx="416.9" cy="280.0" r="1.5"/><circle cx="415.7" cy="280.8" r="1.5"/><circle cx="418.9" cy="281.4" r="1.5"/><circle cx="416.5" cy="282.7" r="1.5"/><circle cx="415.4" cy="283.6" r="1.5"/><circle cx="415.3" cy="283.3" r="1.5"/><circle cx="424.1" cy="284.5" r="1.5"/><circle cx="411.5" cy="285.3" r="1.5"/><circle cx="410.7" cy="285.6" r="1.5"/><circle cx="409.4" cy="286.9" r="1.5"/><circle cx="414.2" cy="286.8" r="1.5"/><circle cx="427.5" cy="287.2" r="1.5"/><circle cx="427.0" cy="288.0" r="1.5"/><circle cx="408.1" cy="288.6" r="1.5"/><circle cx="426.5" cy="289.8" r="1.5"/><circle cx="418.4" cy="290.0" r="1.5"/><circle cx="417.5" cy="290.7" r="1.5"/><circle cx="414.9" cy="290.4" r="1.5"/><circle cx="413.7" cy="291.9" r="1.5"/><circle cx="420.2" cy="291.5" r="1.5"/><circle cx="413.8" cy="292.4" r="1.5"/><circle cx="417.4" cy="292.6" r="1.5"/><circle cx="424.5" cy="293.5" r="1.5"/><circle cx="417.6" cy="295.0" r="1.5"/><circle cx="412.5" cy="294.5" r="1.5"/><circle cx="409.2" cy="295.3" r="1.5"/><circle cx="420.0" cy="296.5" r="1.5"/><circle cx="420.0" cy="297.7" r="1.5"/><circle cx="418.8" cy="298.0" r="1.5"/><circle cx="412.0" cy="298.2" r="1.5"/><circle cx="412.6" cy="299.5" r="1.5"/><circle cx="407.8" cy="300.6" r="1.5"/><circle cx="409.4" cy="302.0" r="1.5"/><circle cx="408.9" cy="303.8" r="1.5"/><circle cx="186.4" cy="192.0" r="1.5"/><circle cx="191.5" cy="193.6" r="1.5"/><circle cx="169.3" cy="194.5" r="1.5"/><circle cx="171.4" cy="195.6" r="1.5"/><circle cx="196.8" cy="196.6" r="1.5"/><circle cx="165.9" cy="197.2" r="1.5"/><circle cx="165.1" cy="198.1" r="1.5"/><circle cx="179.7" cy="199.8" r="1.5"/><circle cx="189.9" cy="200.1" r="1.5"/><circle cx="188.5" cy="201.3" r="1.5"/><circle cx="186.5" cy="201.4" r="1.5"/><circle cx="169.9" cy="202.1" r="1.5"/><circle cx="193.4" cy="202.6" r="1.5"/><circle cx="176.4" cy="203.4" r="1.5"/><circle cx="192.8" cy="204.6" r="1.5"/><circle cx="195.4" cy="204.4" r="1.5"/><circle cx="168.5" cy="205.0" r="1.5"/><circle cx="191.3" cy="206.3" r="1.5"/><circle cx="189.7" cy="207.3" r="1.5"/><circle cx="195.0" cy="208.5" r="1.5"/><circle cx="168.2" cy="209.4" r="1.5"/><circle cx="167.3" cy="210.3" r="1.5"/><circle cx="177.0" cy="211.8" r="1.5"/><circle cx="165.5" cy="212.4" r="1.5"/><circle cx="166.0" cy="213.0" r="1.5"/><circle cx="179.7" cy="213.1" r="1.5"/><circle cx="178.7" cy="213.4" r="1.5"/><circle cx="161.5" cy="214.1" r="1.5"/><circle cx="189.3" cy="214.4" r="1.5"/><circle cx="166.1" cy="215.3" r="1.5"/><circle cx="167.7" cy="215.0" r="1.5"/><circle cx="171.5" cy="216.2" r="1.5"/><circle cx="162.5" cy="217.3" r="1.5"/><circle cx="163.7" cy="218.4" r="1.5"/><circle cx="188.0" cy="219.2" r="1.5"/><circle cx="185.0" cy="220.4" r="1.5"/><circle cx="193.4" cy="220.2" r="1.5"/><circle cx="177.2" cy="221.2" r="1.5"/><circle cx="164.0" cy="222.7" r="1.5"/><circle cx="191.0" cy="223.6" r="1.5"/><circle cx="172.4" cy="223.2" r="1.5"/><circle cx="167.0" cy="224.9" r="1.5"/><circle cx="177.4" cy="225.5" r="1.5"/><circle cx="169.1" cy="225.8" r="1.5"/><circle cx="182.4" cy="226.6" r="1.5"/><circle cx="173.3" cy="227.1" r="1.5"/><circle cx="188.8" cy="228.3" r="1.5"/><circle cx="182.5" cy="228.1" r="1.5"/><circle cx="172.4" cy="229.5" r="1.5"/><circle cx="162.6" cy="230.3" r="1.5"/><circle cx="164.7" cy="231.7" r="1.5"/><circle cx="173.9" cy="232.9" r="1.5"/><circle cx="189.4" cy="233.9" r="1.5"/><circle cx="169.8" cy="234.0" r="1.5"/><circle cx="182.2" cy="235.4" r="1.5"/><circle cx="181.9" cy="236.7" r="1.5"/><circle cx="187.4" cy="237.4" r="1.5"/><circle cx="167.1" cy="238.1" r="1.5"/><circle cx="182.6" cy="240.0" r="1.5"/><circle cx="166.9" cy="241.2" r="1.5"/><circle cx="173.0" cy="242.0" r="1.5"/><circle cx="179.9" cy="243.2" r="1.5"/></g>
<g fill="#4f7d73" fill-opacity="0.95"><circle cx="182.0" cy="90.7" r="1.5"/><circle cx="208.2" cy="93.1" r="1.5"/><circle cx="225.5" cy="99.7" r="1.5"/><circle cx="190.8" cy="101.8" r="1.5"/><circle cx="206.6" cy="105.0" r="1.5"/><circle cx="182.5" cy="126.2" r="1.5"/><circle cx="187.0" cy="131.2" r="1.5"/><circle cx="194.9" cy="130.4" r="1.5"/><circle cx="211.8" cy="123.9" r="1.5"/><circle cx="250.6" cy="130.8" r="1.5"/><circle cx="100.0" cy="140.6" r="1.5"/><circle cx="100.7" cy="157.0" r="1.5"/><circle cx="94.0" cy="166.7" r="1.5"/><circle cx="106.6" cy="170.5" r="1.5"/><circle cx="111.4" cy="174.9" r="1.5"/><circle cx="107.5" cy="190.0" r="1.5"/><circle cx="236.4" cy="158.8" r="1.5"/><circle cx="259.6" cy="155.1" r="1.5"/><circle cx="234.2" cy="179.6" r="1.5"/><circle cx="215.4" cy="162.9" r="1.5"/><circle cx="221.0" cy="190.3" r="1.5"/><circle cx="81.5" cy="199.6" r="1.5"/><circle cx="169.1" cy="162.4" r="1.5"/><circle cx="173.7" cy="162.4" r="1.5"/><circle cx="179.8" cy="132.7" r="1.5"/><circle cx="186.8" cy="139.0" r="1.5"/><circle cx="172.5" cy="135.0" r="1.5"/><circle cx="178.3" cy="141.6" r="1.5"/><circle cx="169.3" cy="152.0" r="1.5"/><circle cx="168.9" cy="157.4" r="1.5"/><circle cx="179.1" cy="158.6" r="1.5"/><circle cx="202.0" cy="147.5" r="1.5"/><circle cx="208.3" cy="152.5" r="1.5"/><circle cx="196.4" cy="154.2" r="1.5"/><circle cx="187.4" cy="160.7" r="1.5"/><circle cx="182.0" cy="164.5" r="1.5"/><circle cx="180.4" cy="168.2" r="1.5"/><circle cx="185.8" cy="153.7" r="1.5"/><circle cx="112.0" cy="198.3" r="1.5"/><circle cx="122.0" cy="198.3" r="1.5"/><circle cx="102.9" cy="201.2" r="1.5"/><circle cx="107.0" cy="205.8" r="1.5"/><circle cx="104.1" cy="207.4" r="1.5"/><circle cx="119.5" cy="203.7" r="1.5"/><circle cx="120.8" cy="206.5" r="1.5"/><circle cx="122.4" cy="209.1" r="1.5"/><circle cx="101.6" cy="210.4" r="1.5"/><circle cx="114.9" cy="210.4" r="1.5"/><circle cx="109.1" cy="214.1" r="1.5"/><circle cx="135.8" cy="194.6" r="1.5"/><circle cx="137.3" cy="205.0" r="1.5"/><circle cx="135.8" cy="211.2" r="1.5"/><circle cx="165.7" cy="188.7" r="1.5"/><circle cx="167.8" cy="192.5" r="1.5"/><circle cx="163.3" cy="202.5" r="1.5"/><circle cx="160.8" cy="208.3" r="1.5"/><circle cx="164.9" cy="212.4" r="1.5"/><circle cx="168.2" cy="210.0" r="1.5"/><circle cx="172.5" cy="188.3" r="1.5"/><circle cx="175.8" cy="187.5" r="1.5"/><circle cx="181.6" cy="187.1" r="1.5"/><circle cx="177.5" cy="191.2" r="1.5"/><circle cx="179.5" cy="190.0" r="1.5"/><circle cx="171.2" cy="195.0" r="1.5"/><circle cx="184.1" cy="193.3" r="1.5"/><circle cx="184.1" cy="196.6" r="1.5"/><circle cx="178.3" cy="196.6" r="1.5"/><circle cx="196.6" cy="196.6" r="1.5"/><circle cx="189.5" cy="199.1" r="1.5"/><circle cx="180.4" cy="202.0" r="1.5"/><circle cx="186.2" cy="201.6" r="1.5"/><circle cx="190.0" cy="203.3" r="1.5"/><circle cx="191.6" cy="203.7" r="1.5"/><circle cx="197.0" cy="202.5" r="1.5"/><circle cx="200.7" cy="202.0" r="1.5"/><circle cx="192.4" cy="206.2" r="1.5"/><circle cx="187.4" cy="206.6" r="1.5"/><circle cx="180.4" cy="208.7" r="1.5"/><circle cx="182.5" cy="209.1" r="1.5"/><circle cx="165.8" cy="210.0" r="1.5"/><circle cx="211.3" cy="204.7" r="1.5"/><circle cx="252.9" cy="205.9" r="1.5"/><circle cx="193.3" cy="220.0" r="1.5"/><circle cx="197.5" cy="226.6" r="1.5"/><circle cx="193.3" cy="230.0" r="1.5"/><circle cx="196.7" cy="237.4" r="1.5"/><circle cx="190.8" cy="235.0" r="1.5"/><circle cx="197.9" cy="217.5" r="1.5"/><circle cx="95.1" cy="225.0" r="1.5"/><circle cx="105.8" cy="216.6" r="1.5"/><circle cx="117.4" cy="216.6" r="1.5"/><circle cx="119.1" cy="216.2" r="1.5"/><circle cx="114.9" cy="218.6" r="1.5"/><circle cx="112.9" cy="221.1" r="1.5"/><circle cx="110.4" cy="222.4" r="1.5"/><circle cx="121.6" cy="219.9" r="1.5"/><circle cx="121.2" cy="222.0" r="1.5"/><circle cx="115.8" cy="222.4" r="1.5"/><circle cx="114.1" cy="224.5" r="1.5"/><circle cx="117.8" cy="227.0" r="1.5"/><circle cx="127.8" cy="215.7" r="1.5"/><circle cx="128.2" cy="225.3" r="1.5"/><circle cx="116.6" cy="235.7" r="1.5"/><circle cx="107.9" cy="236.9" r="1.5"/><circle cx="108.7" cy="239.0" r="1.5"/><circle cx="125.7" cy="236.1" r="1.5"/><circle cx="128.2" cy="238.6" r="1.5"/><circle cx="135.0" cy="228.6" r="1.5"/><circle cx="130.8" cy="235.3" r="1.5"/><circle cx="133.3" cy="238.2" r="1.5"/><circle cx="138.3" cy="239.0" r="1.5"/><circle cx="141.6" cy="239.4" r="1.5"/><circle cx="159.1" cy="219.9" r="1.5"/><circle cx="157.0" cy="237.8" r="1.5"/><circle cx="162.0" cy="215.0" r="1.5"/><circle cx="165.0" cy="217.0" r="1.5"/><circle cx="160.7" cy="232.0" r="1.5"/><circle cx="165.0" cy="238.6" r="1.5"/><circle cx="161.7" cy="212.5" r="1.5"/><circle cx="169.1" cy="215.8" r="1.5"/><circle cx="163.3" cy="217.9" r="1.5"/><circle cx="166.2" cy="220.4" r="1.5"/><circle cx="170.8" cy="221.6" r="1.5"/><circle cx="175.4" cy="218.3" r="1.5"/><circle cx="176.2" cy="222.5" r="1.5"/><circle cx="180.0" cy="222.9" r="1.5"/><circle cx="185.8" cy="219.6" r="1.5"/><circle cx="184.9" cy="226.2" r="1.5"/><circle cx="188.3" cy="229.1" r="1.5"/><circle cx="190.8" cy="227.0" r="1.5"/><circle cx="172.5" cy="227.0" r="1.5"/><circle cx="176.6" cy="227.5" r="1.5"/><circle cx="173.3" cy="230.0" r="1.5"/><circle cx="179.1" cy="232.0" r="1.5"/><circle cx="164.6" cy="235.0" r="1.5"/><circle cx="168.3" cy="235.0" r="1.5"/><circle cx="175.8" cy="235.0" r="1.5"/><circle cx="182.4" cy="235.8" r="1.5"/><circle cx="187.4" cy="237.4" r="1.5"/><circle cx="193.3" cy="236.6" r="1.5"/><circle cx="179.1" cy="238.7" r="1.5"/><circle cx="126.2" cy="240.5" r="1.5"/><circle cx="129.9" cy="239.2" r="1.5"/><circle cx="128.3" cy="244.2" r="1.5"/><circle cx="132.4" cy="243.0" r="1.5"/><circle cx="119.1" cy="253.0" r="1.5"/><circle cx="124.1" cy="252.1" r="1.5"/><circle cx="128.7" cy="253.0" r="1.5"/><circle cx="131.6" cy="254.6" r="1.5"/><circle cx="98.7" cy="255.5" r="1.5"/><circle cx="123.3" cy="256.7" r="1.5"/><circle cx="109.5" cy="262.5" r="1.5"/><circle cx="126.6" cy="261.3" r="1.5"/><circle cx="130.7" cy="262.9" r="1.5"/><circle cx="115.4" cy="265.4" r="1.5"/><circle cx="124.9" cy="266.3" r="1.5"/><circle cx="135.8" cy="239.2" r="1.5"/><circle cx="154.9" cy="243.0" r="1.5"/><circle cx="158.7" cy="242.6" r="1.5"/><circle cx="163.3" cy="241.7" r="1.5"/><circle cx="166.6" cy="243.0" r="1.5"/><circle cx="169.1" cy="245.5" r="1.5"/><circle cx="162.4" cy="246.3" r="1.5"/><circle cx="164.9" cy="248.8" r="1.5"/><circle cx="169.1" cy="250.5" r="1.5"/><circle cx="161.6" cy="253.8" r="1.5"/><circle cx="164.1" cy="257.1" r="1.5"/><circle cx="163.3" cy="260.9" r="1.5"/><circle cx="161.6" cy="262.9" r="1.5"/><circle cx="164.9" cy="263.8" r="1.5"/><circle cx="159.1" cy="262.1" r="1.5"/><circle cx="168.2" cy="261.3" r="1.5"/><circle cx="133.3" cy="253.4" r="1.5"/><circle cx="136.7" cy="253.8" r="1.5"/><circle cx="137.9" cy="255.9" r="1.5"/><circle cx="135.0" cy="258.8" r="1.5"/><circle cx="132.5" cy="262.5" r="1.5"/><circle cx="137.9" cy="262.1" r="1.5"/><circle cx="135.0" cy="265.4" r="1.5"/><circle cx="140.0" cy="267.5" r="1.5"/><circle cx="166.6" cy="266.3" r="1.5"/><circle cx="173.3" cy="238.8" r="1.5"/><circle cx="185.0" cy="239.7" r="1.5"/><circle cx="169.2" cy="243.0" r="1.5"/><circle cx="177.1" cy="244.7" r="1.5"/><circle cx="172.5" cy="245.9" r="1.5"/><circle cx="182.5" cy="246.3" r="1.5"/><circle cx="185.0" cy="243.0" r="1.5"/><circle cx="175.0" cy="248.8" r="1.5"/><circle cx="179.5" cy="248.8" r="1.5"/><circle cx="182.9" cy="250.9" r="1.5"/><circle cx="175.8" cy="253.4" r="1.5"/><circle cx="180.0" cy="253.4" r="1.5"/><circle cx="166.7" cy="254.2" r="1.5"/><circle cx="175.0" cy="257.1" r="1.5"/><circle cx="181.6" cy="257.5" r="1.5"/><circle cx="185.8" cy="258.4" r="1.5"/><circle cx="188.3" cy="255.5" r="1.5"/><circle cx="189.9" cy="257.1" r="1.5"/><circle cx="169.2" cy="258.8" r="1.5"/><circle cx="173.3" cy="260.4" r="1.5"/><circle cx="177.5" cy="261.3" r="1.5"/><circle cx="183.3" cy="259.6" r="1.5"/><circle cx="166.7" cy="263.0" r="1.5"/><circle cx="170.0" cy="263.8" r="1.5"/><circle cx="203.8" cy="264.2" r="1.5"/><circle cx="128.3" cy="264.5" r="1.5"/><circle cx="132.4" cy="264.5" r="1.5"/><circle cx="135.8" cy="263.7" r="1.5"/><circle cx="130.0" cy="273.6" r="1.5"/><circle cx="133.3" cy="271.1" r="1.5"/><circle cx="133.3" cy="275.7" r="1.5"/><circle cx="134.9" cy="279.5" r="1.5"/><circle cx="138.3" cy="277.0" r="1.5"/><circle cx="132.4" cy="282.8" r="1.5"/><circle cx="135.8" cy="285.3" r="1.5"/><circle cx="139.9" cy="280.3" r="1.5"/><circle cx="142.4" cy="284.4" r="1.5"/><circle cx="139.9" cy="270.3" r="1.5"/><circle cx="141.6" cy="273.6" r="1.5"/><circle cx="144.1" cy="276.1" r="1.5"/><circle cx="131.6" cy="286.1" r="1.5"/><circle cx="120.0" cy="286.5" r="1.5"/><circle cx="138.3" cy="289.4" r="1.5"/><circle cx="331.3" cy="27.3" r="1.5"/><circle cx="356.6" cy="119.6" r="1.5"/><circle cx="334.1" cy="144.1" r="1.5"/><circle cx="352.4" cy="140.8" r="1.5"/><circle cx="324.1" cy="148.3" r="1.5"/><circle cx="330.2" cy="156.8" r="1.5"/><circle cx="365.7" cy="148.3" r="1.5"/><circle cx="344.9" cy="157.8" r="1.5"/><circle cx="334.6" cy="166.1" r="1.5"/><circle cx="347.4" cy="170.0" r="1.5"/><circle cx="349.1" cy="173.3" r="1.5"/><circle cx="335.8" cy="170.8" r="1.5"/><circle cx="350.7" cy="182.4" r="1.5"/><circle cx="361.6" cy="180.5" r="1.5"/><circle cx="365.7" cy="180.8" r="1.5"/><circle cx="290.8" cy="194.9" r="1.5"/><circle cx="335.8" cy="198.3" r="1.5"/><circle cx="353.7" cy="198.1" r="1.5"/><circle cx="358.7" cy="199.4" r="1.5"/><circle cx="354.3" cy="200.6" r="1.5"/><circle cx="338.1" cy="207.5" r="1.5"/><circle cx="346.2" cy="206.0" r="1.5"/><circle cx="353.1" cy="207.5" r="1.5"/><circle cx="359.3" cy="207.5" r="1.5"/><circle cx="333.1" cy="210.6" r="1.5"/><circle cx="343.7" cy="211.2" r="1.5"/><circle cx="365.5" cy="211.2" r="1.5"/><circle cx="339.4" cy="218.1" r="1.5"/><circle cx="356.2" cy="218.1" r="1.5"/><circle cx="361.2" cy="218.1" r="1.5"/><circle cx="372.4" cy="221.2" r="1.5"/><circle cx="335.6" cy="222.4" r="1.5"/><circle cx="342.5" cy="221.2" r="1.5"/><circle cx="346.2" cy="220.6" r="1.5"/><circle cx="341.8" cy="225.5" r="1.5"/><circle cx="366.2" cy="225.5" r="1.5"/><circle cx="373.6" cy="226.8" r="1.5"/><circle cx="337.5" cy="230.5" r="1.5"/><circle cx="343.7" cy="234.9" r="1.5"/><circle cx="358.7" cy="235.5" r="1.5"/><circle cx="363.7" cy="234.9" r="1.5"/><circle cx="367.4" cy="233.7" r="1.5"/><circle cx="379.9" cy="234.9" r="1.5"/><circle cx="373.6" cy="231.2" r="1.5"/><circle cx="348.7" cy="238.0" r="1.5"/><circle cx="371.7" cy="201.6" r="1.5"/><circle cx="438.2" cy="191.3" r="1.5"/><circle cx="434.9" cy="205.8" r="1.5"/><circle cx="427.4" cy="219.1" r="1.5"/><circle cx="422.4" cy="221.6" r="1.5"/><circle cx="426.6" cy="230.7" r="1.5"/><circle cx="424.9" cy="236.6" r="1.5"/><circle cx="434.0" cy="238.2" r="1.5"/><circle cx="450.9" cy="217.4" r="1.5"/><circle cx="450.9" cy="234.5" r="1.5"/><circle cx="469.7" cy="243.6" r="1.5"/><circle cx="436.8" cy="250.4" r="1.5"/><circle cx="433.5" cy="253.3" r="1.5"/><circle cx="470.3" cy="263.0" r="1.5"/><circle cx="315.5" cy="224.2" r="1.5"/><circle cx="312.7" cy="238.8" r="1.5"/><circle cx="331.7" cy="245.9" r="1.5"/><circle cx="342.3" cy="235.2" r="1.5"/><circle cx="343.3" cy="241.0" r="1.5"/><circle cx="348.7" cy="242.9" r="1.5"/><circle cx="347.0" cy="244.1" r="1.5"/><circle cx="351.2" cy="249.9" r="1.5"/><circle cx="357.0" cy="235.8" r="1.5"/><circle cx="360.7" cy="234.1" r="1.5"/><circle cx="361.6" cy="238.3" r="1.5"/><circle cx="358.3" cy="245.8" r="1.5"/><circle cx="361.6" cy="247.4" r="1.5"/><circle cx="356.6" cy="249.1" r="1.5"/><circle cx="362.4" cy="249.9" r="1.5"/><circle cx="359.1" cy="252.4" r="1.5"/><circle cx="360.8" cy="215.8" r="1.5"/><circle cx="365.8" cy="224.1" r="1.5"/><circle cx="365.8" cy="227.0" r="1.5"/><circle cx="362.9" cy="236.7" r="1.5"/><circle cx="369.1" cy="237.1" r="1.5"/><circle cx="361.7" cy="240.1" r="1.5"/><circle cx="366.6" cy="240.5" r="1.5"/><circle cx="370.0" cy="241.3" r="1.5"/><circle cx="364.6" cy="243.8" r="1.5"/><circle cx="368.3" cy="245.5" r="1.5"/><circle cx="372.5" cy="243.8" r="1.5"/><circle cx="374.1" cy="248.0" r="1.5"/><circle cx="377.5" cy="249.6" r="1.5"/><circle cx="370.0" cy="250.4" r="1.5"/><circle cx="365.0" cy="252.1" r="1.5"/><circle cx="380.8" cy="252.1" r="1.5"/><circle cx="376.6" cy="252.9" r="1.5"/><circle cx="384.1" cy="251.3" r="1.5"/><circle cx="372.5" cy="254.6" r="1.5"/><circle cx="379.1" cy="255.4" r="1.5"/><circle cx="382.4" cy="254.6" r="1.5"/><circle cx="368.3" cy="256.3" r="1.5"/><circle cx="421.3" cy="239.0" r="1.5"/><circle cx="421.8" cy="248.2" r="1.5"/><circle cx="410.9" cy="252.2" r="1.5"/><circle cx="414.9" cy="256.3" r="1.5"/><circle cx="419.5" cy="254.0" r="1.5"/><circle cx="425.3" cy="252.8" r="1.5"/><circle cx="428.7" cy="255.7" r="1.5"/><circle cx="425.5" cy="260.0" r="1.5"/><circle cx="411.7" cy="261.1" r="1.5"/><circle cx="413.3" cy="270.0" r="1.5"/><circle cx="425.0" cy="272.2" r="1.5"/><circle cx="431.6" cy="271.1" r="1.5"/><circle cx="416.6" cy="273.8" r="1.5"/><circle cx="411.7" cy="276.1" r="1.5"/><circle cx="421.6" cy="278.3" r="1.5"/><circle cx="429.4" cy="280.0" r="1.5"/><circle cx="434.9" cy="281.6" r="1.5"/><circle cx="408.3" cy="281.6" r="1.5"/><circle cx="411.7" cy="284.4" r="1.5"/><circle cx="417.2" cy="282.7" r="1.5"/><circle cx="422.7" cy="284.9" r="1.5"/><circle cx="407.2" cy="288.3" r="1.5"/><circle cx="412.8" cy="289.4" r="1.5"/><circle cx="409.4" cy="292.7" r="1.5"/><circle cx="416.1" cy="291.6" r="1.5"/><circle cx="447.1" cy="288.8" r="1.5"/><circle cx="346.6" cy="263.3" r="1.5"/><circle cx="346.0" cy="272.2" r="1.5"/></g>
</g></svg></div></body></html>
